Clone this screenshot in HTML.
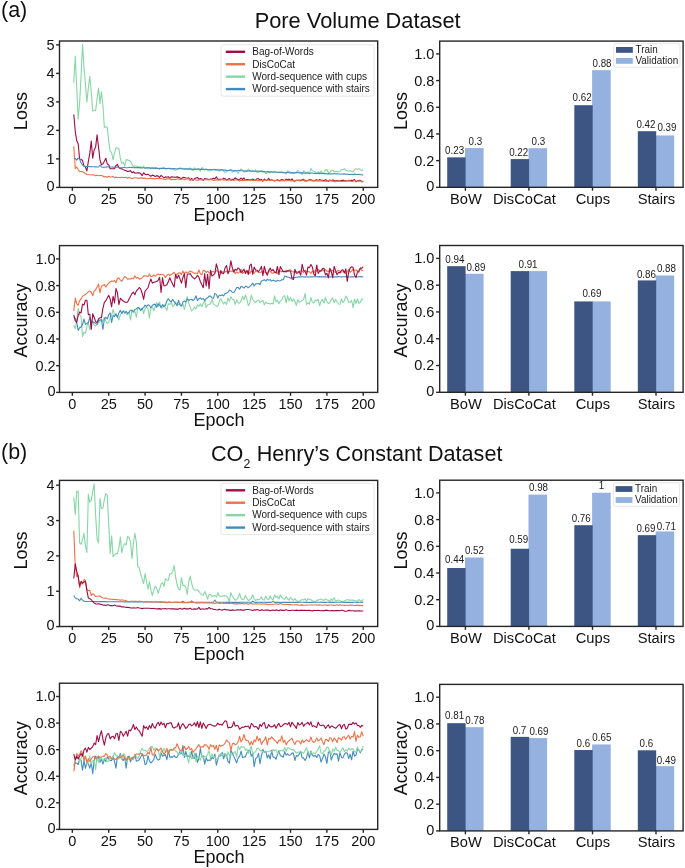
<!DOCTYPE html>
<html><head><meta charset="utf-8"><style>
html,body{margin:0;padding:0;background:#fff;}
body{width:685px;height:868px;overflow:hidden;}
svg{display:block;font-family:"Liberation Sans", sans-serif;fill:#111;will-change:transform;}
</style></head><body>
<svg width="685" height="868" viewBox="0 0 685 868">
<rect width="685" height="868" fill="#ffffff"/>
<polyline points="73.80,82.88 75.26,56.17 76.71,87.71 78.17,119.26 79.62,102.78 81.08,76.06 82.53,44.23 83.99,67.54 85.44,84.30 86.89,101.92 88.35,88.00 89.80,76.35 91.26,91.69 92.71,111.02 94.17,110.45 95.62,110.45 97.08,98.80 98.53,88.00 99.99,103.63 101.44,91.69 102.89,104.48 104.35,127.50 105.80,126.65 107.26,127.22 108.71,141.43 110.17,151.38 111.62,152.51 113.08,159.90 114.53,152.80 115.98,147.68 117.44,147.96 118.89,148.25 120.35,158.48 121.80,163.60 123.26,162.17 124.71,166.15 126.17,159.62 127.62,159.90 129.08,160.47 130.53,161.32 131.98,164.16 133.44,167.01 134.89,165.87 136.35,166.01 137.80,166.42 139.26,167.84 140.71,166.61 142.17,168.30 143.62,165.96 145.07,168.65 146.53,167.51 147.98,168.24 149.44,167.34 150.89,168.94 152.35,167.39 153.80,168.56 155.26,167.22 156.71,167.91 158.17,168.44 159.62,169.40 161.07,167.91 162.53,168.26 163.98,167.14 165.44,169.19 166.89,168.32 168.35,168.41 169.80,168.68 171.26,168.81 172.71,168.88 174.16,169.70 175.62,170.17 177.07,169.60 178.53,168.67 179.98,167.80 181.44,168.38 182.89,168.35 184.35,168.67 185.80,168.80 187.26,169.36 188.71,168.82 190.16,167.88 191.62,170.01 193.07,170.43 194.53,167.84 195.98,169.59 197.44,168.92 198.89,169.06 200.35,171.11 201.80,167.61 203.25,168.31 204.71,169.95 206.16,169.42 207.62,170.09 209.07,171.15 210.53,170.43 211.98,169.99 213.44,169.30 214.89,169.76 216.35,170.45 217.80,169.21 219.25,171.36 220.71,169.86 222.16,169.58 223.62,171.02 225.07,172.55 226.53,171.72 227.98,170.62 229.44,170.37 230.89,169.40 232.34,171.98 233.80,171.03 235.25,170.42 236.71,171.27 238.16,173.51 239.62,170.40 241.07,168.94 242.53,170.28 243.98,172.24 245.44,171.78 246.89,171.19 248.34,168.98 249.80,170.88 251.25,171.43 252.71,170.03 254.16,171.71 255.62,169.82 257.07,172.39 258.53,172.22 259.98,171.08 261.43,170.42 262.89,171.23 264.34,171.62 265.80,173.78 267.25,172.72 268.71,172.66 270.16,172.62 271.62,171.55 273.07,172.51 274.53,171.44 275.98,172.18 277.43,172.64 278.89,172.23 280.34,171.97 281.80,171.58 283.25,172.95 284.71,172.75 286.16,173.92 287.62,171.01 289.07,171.20 290.52,172.87 291.98,173.11 293.43,173.81 294.89,172.35 296.34,172.26 297.80,170.24 299.25,172.10 300.71,173.07 302.16,174.67 303.62,170.78 305.07,171.93 306.52,173.67 307.98,171.83 309.43,173.55 310.89,168.43 312.34,170.72 313.80,171.21 315.25,171.90 316.71,173.80 318.16,171.74 319.62,173.10 321.07,170.90 322.52,173.57 323.98,172.29 325.43,170.11 326.89,169.63 328.34,172.39 329.80,172.68 331.25,170.22 332.71,170.19 334.16,171.97 335.61,171.62 337.07,171.56 338.52,172.00 339.98,171.43 341.43,169.46 342.89,169.96 344.34,168.54 345.80,170.62 347.25,170.61 348.70,171.39 350.16,170.48 351.61,171.61 353.07,172.01 354.52,169.50 355.98,168.70 357.43,169.24 358.89,168.69 360.34,169.71 361.80,170.62 363.25,169.76" fill="none" stroke="#88d5a7" stroke-width="1.1" stroke-linejoin="round" opacity="1.0"/>
<polyline points="73.80,114.43 75.26,131.48 76.71,140.58 78.17,143.70 79.62,159.05 81.08,159.33 82.53,160.47 83.99,166.15 85.44,167.01 86.89,170.98 88.35,161.32 89.80,153.36 91.26,141.14 92.71,158.20 94.17,149.95 95.62,147.11 97.08,134.89 98.53,147.11 99.99,159.90 101.44,164.73 102.89,163.88 104.35,161.32 105.80,158.20 107.26,163.88 108.71,164.73 110.17,168.71 111.62,168.71 113.08,168.71 114.53,168.71 115.98,165.59 117.44,164.45 118.89,167.57 120.35,168.71 121.80,168.72 123.26,169.65 124.71,170.27 126.17,170.65 127.62,171.45 129.08,171.11 130.53,170.65 131.98,172.81 133.44,171.77 134.89,173.16 136.35,173.07 137.80,172.84 139.26,172.84 140.71,173.56 142.17,175.56 143.62,172.70 145.07,174.28 146.53,174.84 147.98,174.12 149.44,175.38 150.89,176.28 152.35,175.12 153.80,175.46 155.26,176.67 156.71,175.61 158.17,176.11 159.62,177.37 161.07,175.45 162.53,176.68 163.98,177.85 165.44,176.87 166.89,177.19 168.35,176.66 169.80,178.39 171.26,176.77 172.71,176.92 174.16,177.17 175.62,177.31 177.07,176.89 178.53,177.39 179.98,177.88 181.44,178.64 182.89,177.34 184.35,177.49 185.80,178.04 187.26,178.21 188.71,177.87 190.16,180.20 191.62,178.29 193.07,180.32 194.53,178.48 195.98,177.98 197.44,177.46 198.89,179.17 200.35,178.61 201.80,178.97 203.25,180.48 204.71,178.46 206.16,178.99 207.62,178.95 209.07,179.66 210.53,179.05 211.98,178.99 213.44,178.19 214.89,178.88 216.35,176.72 217.80,179.39 219.25,179.31 220.71,179.18 222.16,179.71 223.62,178.16 225.07,178.76 226.53,180.07 227.98,179.16 229.44,178.47 230.89,180.21 232.34,179.18 233.80,179.45 235.25,177.76 236.71,179.05 238.16,179.62 239.62,179.74 241.07,178.13 242.53,179.70 243.98,177.90 245.44,180.46 246.89,179.57 248.34,179.62 249.80,179.94 251.25,179.64 252.71,179.06 254.16,179.97 255.62,180.49 257.07,178.70 258.53,178.63 259.98,180.06 261.43,179.43 262.89,181.31 264.34,178.99 265.80,180.54 267.25,180.06 268.71,178.33 270.16,180.55 271.62,179.74 273.07,180.46 274.53,180.97 275.98,180.55 277.43,179.65 278.89,180.68 280.34,180.24 281.80,179.42 283.25,180.00 284.71,180.75 286.16,178.99 287.62,179.88 289.07,179.09 290.52,180.65 291.98,178.95 293.43,180.87 294.89,181.14 296.34,180.33 297.80,180.31 299.25,179.94 300.71,180.47 302.16,179.75 303.62,179.33 305.07,180.58 306.52,181.04 307.98,180.46 309.43,179.73 310.89,179.75 312.34,180.48 313.80,180.89 315.25,180.31 316.71,179.73 318.16,180.77 319.62,179.57 321.07,180.24 322.52,180.22 323.98,180.79 325.43,179.61 326.89,180.42 328.34,181.36 329.80,180.00 331.25,180.76 332.71,179.88 334.16,180.44 335.61,180.93 337.07,180.48 338.52,180.89 339.98,181.10 341.43,180.62 342.89,180.16 344.34,180.63 345.80,180.74 347.25,181.03 348.70,180.39 350.16,180.58 351.61,180.20 353.07,180.57 354.52,179.56 355.98,181.73 357.43,180.86 358.89,180.54 360.34,180.35 361.80,181.77 363.25,181.61" fill="none" stroke="#9c0e44" stroke-width="1.1" stroke-linejoin="round" opacity="1.0"/>
<polyline points="73.80,146.26 75.26,168.71 76.71,167.01 78.17,169.56 79.62,171.46 81.08,171.47 82.53,171.69 83.99,172.50 85.44,173.56 86.89,174.57 88.35,174.79 89.80,174.77 91.26,174.98 92.71,174.70 94.17,174.96 95.62,175.76 97.08,175.26 98.53,175.70 99.99,175.50 101.44,175.56 102.89,176.07 104.35,177.05 105.80,176.41 107.26,177.23 108.71,176.25 110.17,177.07 111.62,176.98 113.08,176.37 114.53,177.65 115.98,177.12 117.44,177.56 118.89,177.45 120.35,177.61 121.80,177.18 123.26,177.59 124.71,177.44 126.17,177.41 127.62,178.27 129.08,177.30 130.53,177.90 131.98,178.43 133.44,178.15 134.89,177.69 136.35,177.70 137.80,178.32 139.26,178.11 140.71,178.11 142.17,177.90 143.62,178.35 145.07,178.03 146.53,178.70 147.98,178.70 149.44,178.29 150.89,178.33 152.35,178.64 153.80,178.46 155.26,178.62 156.71,178.47 158.17,178.38 159.62,178.63 161.07,178.56 162.53,179.00 163.98,179.09 165.44,179.72 166.89,178.84 168.35,179.00 169.80,178.87 171.26,179.70 172.71,179.28 174.16,179.34 175.62,179.78 177.07,178.93 178.53,178.86 179.98,179.71 181.44,179.19 182.89,178.80 184.35,179.80 185.80,179.12 187.26,178.96 188.71,178.90 190.16,179.99 191.62,179.93 193.07,179.55 194.53,179.26 195.98,180.10 197.44,179.97 198.89,180.12 200.35,179.42 201.80,179.98 203.25,179.64 204.71,179.64 206.16,179.49 207.62,179.75 209.07,179.80 210.53,179.56 211.98,179.80 213.44,180.38 214.89,180.17 216.35,179.73 217.80,180.00 219.25,180.17 220.71,179.99 222.16,179.02 223.62,180.10 225.07,179.95 226.53,179.96 227.98,180.21 229.44,179.75 230.89,179.87 232.34,180.03 233.80,180.60 235.25,179.78 236.71,179.95 238.16,180.23 239.62,181.07 241.07,180.24 242.53,180.62 243.98,180.32 245.44,180.42 246.89,180.53 248.34,179.96 249.80,180.26 251.25,179.92 252.71,180.62 254.16,180.39 255.62,179.91 257.07,180.25 258.53,180.59 259.98,180.65 261.43,180.57 262.89,180.42 264.34,180.19 265.80,180.37 267.25,180.20 268.71,180.18 270.16,180.42 271.62,180.06 273.07,180.25 274.53,180.54 275.98,180.55 277.43,180.52 278.89,180.75 280.34,180.95 281.80,180.53 283.25,180.71 284.71,180.39 286.16,180.76 287.62,180.56 289.07,180.54 290.52,180.76 291.98,180.57 293.43,180.86 294.89,180.78 296.34,180.41 297.80,180.55 299.25,180.68 300.71,180.93 302.16,180.49 303.62,180.11 305.07,181.39 306.52,180.42 307.98,180.69 309.43,180.43 310.89,180.42 312.34,181.09 313.80,180.27 315.25,180.99 316.71,180.90 318.16,180.64 319.62,180.87 321.07,180.77 322.52,181.02 323.98,181.19 325.43,180.88 326.89,181.23 328.34,180.51 329.80,180.85 331.25,180.52 332.71,181.32 334.16,181.58 335.61,181.65 337.07,181.09 338.52,181.37 339.98,180.90 341.43,181.45 342.89,181.44 344.34,180.95 345.80,181.17 347.25,180.86 348.70,180.83 350.16,180.98 351.61,181.45 353.07,181.36 354.52,180.45 355.98,181.20 357.43,181.05 358.89,181.11 360.34,181.17 361.80,181.22 363.25,181.35" fill="none" stroke="#ec7248" stroke-width="1.1" stroke-linejoin="round" opacity="1.0"/>
<polyline points="73.80,158.20 75.26,158.48 76.71,160.19 78.17,158.20 79.62,159.05 81.08,163.03 82.53,165.02 83.99,166.15 85.44,166.44 86.89,166.50 88.35,166.56 89.80,166.63 91.26,166.69 92.71,166.75 94.17,166.82 95.62,166.88 97.08,166.94 98.53,167.01 99.99,165.02 101.44,167.01 102.89,167.19 104.35,167.17 105.80,166.92 107.26,166.84 108.71,167.00 110.17,167.03 111.62,167.07 113.08,167.16 114.53,167.04 115.98,167.32 117.44,167.08 118.89,167.36 120.35,167.73 121.80,167.69 123.26,167.47 124.71,167.56 126.17,167.76 127.62,167.68 129.08,167.50 130.53,167.48 131.98,167.42 133.44,167.82 134.89,167.58 136.35,167.46 137.80,167.64 139.26,167.36 140.71,167.88 142.17,167.80 143.62,167.79 145.07,167.94 146.53,167.91 147.98,167.89 149.44,167.98 150.89,168.12 152.35,168.15 153.80,168.11 155.26,168.46 156.71,168.14 158.17,168.45 159.62,168.31 161.07,168.53 162.53,168.31 163.98,168.45 165.44,168.47 166.89,168.61 168.35,168.47 169.80,168.20 171.26,168.95 172.71,168.51 174.16,168.61 175.62,168.77 177.07,169.00 178.53,168.45 179.98,168.77 181.44,168.65 182.89,168.97 184.35,169.09 185.80,168.75 187.26,168.86 188.71,169.11 190.16,169.14 191.62,169.00 193.07,169.33 194.53,169.38 195.98,169.26 197.44,169.09 198.89,169.16 200.35,169.33 201.80,169.14 203.25,169.48 204.71,169.59 206.16,169.06 207.62,169.67 209.07,169.49 210.53,169.54 211.98,169.66 213.44,169.68 214.89,169.63 216.35,169.70 217.80,169.96 219.25,169.90 220.71,169.69 222.16,169.87 223.62,170.16 225.07,170.12 226.53,170.38 227.98,170.50 229.44,170.40 230.89,170.05 232.34,170.54 233.80,170.85 235.25,170.55 236.71,170.72 238.16,170.50 239.62,170.46 241.07,170.82 242.53,170.79 243.98,171.04 245.44,170.69 246.89,171.12 248.34,171.03 249.80,170.64 251.25,171.33 252.71,171.18 254.16,171.28 255.62,171.24 257.07,171.29 258.53,171.16 259.98,171.40 261.43,171.44 262.89,171.84 264.34,171.59 265.80,171.97 267.25,171.55 268.71,171.85 270.16,171.71 271.62,172.04 273.07,171.96 274.53,172.05 275.98,172.02 277.43,172.19 278.89,172.34 280.34,172.36 281.80,172.47 283.25,172.57 284.71,172.68 286.16,172.78 287.62,172.23 289.07,172.76 290.52,172.89 291.98,172.55 293.43,172.72 294.89,172.83 296.34,172.64 297.80,172.55 299.25,173.08 300.71,172.71 302.16,172.90 303.62,172.84 305.07,173.18 306.52,172.83 307.98,172.96 309.43,173.67 310.89,173.02 312.34,173.05 313.80,173.57 315.25,173.30 316.71,173.43 318.16,173.40 319.62,173.63 321.07,173.41 322.52,173.43 323.98,173.62 325.43,173.65 326.89,173.98 328.34,173.63 329.80,173.98 331.25,173.80 332.71,173.98 334.16,173.43 335.61,173.92 337.07,173.70 338.52,174.01 339.98,174.05 341.43,173.95 342.89,174.13 344.34,173.76 345.80,174.23 347.25,173.96 348.70,174.48 350.16,174.47 351.61,174.25 353.07,174.63 354.52,174.11 355.98,174.39 357.43,174.50 358.89,174.26 360.34,174.68 361.80,174.76 363.25,175.11" fill="none" stroke="#438cbd" stroke-width="1.1" stroke-linejoin="round" opacity="1.0"/>
<rect x="59.50" y="41.00" width="318.20" height="146.40" fill="none" stroke="#262626" stroke-width="1.4"/>
<line x1="56.10" y1="187.40" x2="59.50" y2="187.40" stroke="#262626" stroke-width="1.4"/>
<text x="54.50" y="191.05" font-size="14.5" text-anchor="end" >0</text>
<line x1="56.10" y1="158.90" x2="59.50" y2="158.90" stroke="#262626" stroke-width="1.4"/>
<text x="54.50" y="163.85" font-size="14.5" text-anchor="end" >1</text>
<line x1="56.10" y1="130.40" x2="59.50" y2="130.40" stroke="#262626" stroke-width="1.4"/>
<text x="54.50" y="135.35" font-size="14.5" text-anchor="end" >2</text>
<line x1="56.10" y1="101.90" x2="59.50" y2="101.90" stroke="#262626" stroke-width="1.4"/>
<text x="54.50" y="106.85" font-size="14.5" text-anchor="end" >3</text>
<line x1="56.10" y1="73.40" x2="59.50" y2="73.40" stroke="#262626" stroke-width="1.4"/>
<text x="54.50" y="78.35" font-size="14.5" text-anchor="end" >4</text>
<line x1="56.10" y1="44.90" x2="59.50" y2="44.90" stroke="#262626" stroke-width="1.4"/>
<text x="54.50" y="49.85" font-size="14.5" text-anchor="end" >5</text>
<line x1="72.35" y1="187.40" x2="72.35" y2="190.80" stroke="#262626" stroke-width="1.4"/>
<text x="72.35" y="203.80" font-size="14.5" text-anchor="middle" >0</text>
<line x1="108.71" y1="187.40" x2="108.71" y2="190.80" stroke="#262626" stroke-width="1.4"/>
<text x="108.71" y="203.80" font-size="14.5" text-anchor="middle" >25</text>
<line x1="145.07" y1="187.40" x2="145.07" y2="190.80" stroke="#262626" stroke-width="1.4"/>
<text x="145.07" y="203.80" font-size="14.5" text-anchor="middle" >50</text>
<line x1="181.44" y1="187.40" x2="181.44" y2="190.80" stroke="#262626" stroke-width="1.4"/>
<text x="181.44" y="203.80" font-size="14.5" text-anchor="middle" >75</text>
<line x1="217.80" y1="187.40" x2="217.80" y2="190.80" stroke="#262626" stroke-width="1.4"/>
<text x="217.80" y="203.80" font-size="14.5" text-anchor="middle" >100</text>
<line x1="254.16" y1="187.40" x2="254.16" y2="190.80" stroke="#262626" stroke-width="1.4"/>
<text x="254.16" y="203.80" font-size="14.5" text-anchor="middle" >125</text>
<line x1="290.52" y1="187.40" x2="290.52" y2="190.80" stroke="#262626" stroke-width="1.4"/>
<text x="290.52" y="203.80" font-size="14.5" text-anchor="middle" >150</text>
<line x1="326.89" y1="187.40" x2="326.89" y2="190.80" stroke="#262626" stroke-width="1.4"/>
<text x="326.89" y="203.80" font-size="14.5" text-anchor="middle" >175</text>
<line x1="363.25" y1="187.40" x2="363.25" y2="190.80" stroke="#262626" stroke-width="1.4"/>
<text x="363.25" y="203.80" font-size="14.5" text-anchor="middle" >200</text>
<text x="218.90" y="220.90" font-size="18.0" text-anchor="middle" >Epoch</text>
<text x="27.20" y="111.10" font-size="18.0" text-anchor="middle" transform="rotate(-90 27.20 111.10)" >Loss</text>
<rect x="221.00" y="44.80" width="153" height="51.3" rx="2" fill="#ffffff" fill-opacity="0.8" stroke="#e0e0e0" stroke-width="0.8"/>
<line x1="225.80" y1="51.80" x2="245.10" y2="51.80" stroke="#9c0e44" stroke-width="2.4"/>
<text x="0" y="0" font-size="10.0" text-anchor="start" transform="translate(252.30 55.10) scale(1 1.1)" fill="#1a1a1a">Bag-of-Words</text>
<line x1="225.80" y1="64.23" x2="245.10" y2="64.23" stroke="#ec7248" stroke-width="2.4"/>
<text x="0" y="0" font-size="10.0" text-anchor="start" transform="translate(252.30 67.53) scale(1 1.1)" fill="#1a1a1a">DisCoCat</text>
<line x1="225.80" y1="76.66" x2="245.10" y2="76.66" stroke="#88d5a7" stroke-width="2.4"/>
<text x="0" y="0" font-size="10.0" text-anchor="start" transform="translate(252.30 79.96) scale(1 1.1)" fill="#1a1a1a">Word-sequence with cups</text>
<line x1="225.80" y1="89.09" x2="245.10" y2="89.09" stroke="#438cbd" stroke-width="2.4"/>
<text x="0" y="0" font-size="10.0" text-anchor="start" transform="translate(252.30 92.39) scale(1 1.1)" fill="#1a1a1a">Word-sequence with stairs</text>
<polyline points="73.80,325.13 75.26,328.72 76.71,320.75 78.17,308.51 79.62,314.76 81.08,316.49 82.53,336.57 83.99,332.18 85.44,333.11 86.89,326.06 88.35,322.47 89.80,329.52 91.26,319.95 92.71,321.68 94.17,325.13 95.62,326.06 97.08,324.34 98.53,322.47 99.99,321.68 101.44,319.02 102.89,321.68 104.35,317.29 105.80,320.75 107.26,323.40 108.71,322.47 110.17,317.29 111.62,315.56 113.08,309.44 114.53,314.76 115.98,315.56 117.44,316.49 118.89,319.95 120.35,314.76 121.80,312.90 123.26,311.17 124.71,312.10 126.17,313.83 127.62,314.76 129.08,312.10 130.53,320.05 131.98,310.05 133.44,313.00 134.89,311.24 136.35,317.29 137.80,307.51 139.26,308.17 140.71,308.85 142.17,308.14 143.62,313.51 145.07,308.34 146.53,307.08 147.98,308.57 149.44,318.11 150.89,308.08 152.35,307.11 153.80,310.79 155.26,306.75 156.71,302.57 158.17,306.74 159.62,302.00 161.07,307.68 162.53,308.04 163.98,304.62 165.44,308.06 166.89,310.37 168.35,303.63 169.80,304.46 171.26,302.33 172.71,306.74 174.16,305.11 175.62,301.90 177.07,305.24 178.53,304.57 179.98,303.35 181.44,306.70 182.89,303.72 184.35,309.42 185.80,303.34 187.26,296.55 188.71,303.27 190.16,306.82 191.62,310.93 193.07,309.67 194.53,307.08 195.98,308.84 197.44,304.99 198.89,306.33 200.35,303.93 201.80,306.68 203.25,303.00 204.71,300.77 206.16,307.62 207.62,304.67 209.07,304.34 210.53,303.79 211.98,299.45 213.44,303.77 214.89,305.13 216.35,306.14 217.80,306.16 219.25,301.78 220.71,298.61 222.16,301.30 223.62,304.02 225.07,301.99 226.53,304.36 227.98,298.22 229.44,301.06 230.89,296.79 232.34,299.33 233.80,299.44 235.25,304.43 236.71,299.83 238.16,302.66 239.62,303.17 241.07,300.85 242.53,296.25 243.98,299.82 245.44,294.99 246.89,299.26 248.34,305.72 249.80,303.05 251.25,295.39 252.71,299.50 254.16,301.09 255.62,302.78 257.07,300.80 258.53,299.99 259.98,302.64 261.43,301.49 262.89,300.43 264.34,304.73 265.80,302.10 267.25,303.61 268.71,303.28 270.16,304.11 271.62,303.25 273.07,303.88 274.53,295.81 275.98,301.82 277.43,300.13 278.89,303.78 280.34,300.85 281.80,299.89 283.25,296.28 284.71,295.83 286.16,302.65 287.62,295.66 289.07,301.01 290.52,297.42 291.98,301.45 293.43,298.95 294.89,301.52 296.34,305.47 297.80,299.43 299.25,302.18 300.71,301.60 302.16,300.41 303.62,299.62 305.07,293.45 306.52,304.52 307.98,302.76 309.43,304.13 310.89,297.30 312.34,302.09 313.80,303.04 315.25,299.73 316.71,300.94 318.16,299.51 319.62,305.80 321.07,301.14 322.52,299.35 323.98,303.01 325.43,297.33 326.89,301.48 328.34,303.62 329.80,302.49 331.25,299.57 332.71,297.97 334.16,302.70 335.61,299.44 337.07,302.27 338.52,304.01 339.98,304.27 341.43,298.92 342.89,302.61 344.34,300.73 345.80,296.11 347.25,298.12 348.70,302.48 350.16,302.07 351.61,300.39 353.07,307.72 354.52,299.17 355.98,303.45 357.43,298.97 358.89,303.44 360.34,302.31 361.80,298.71 363.25,299.23" fill="none" stroke="#88d5a7" stroke-width="1.1" stroke-linejoin="round" opacity="1.0"/>
<polyline points="73.80,317.29 75.26,318.22 76.71,322.47 78.17,330.45 79.62,327.79 81.08,327.00 82.53,324.34 83.99,319.02 85.44,324.34 86.89,323.40 88.35,322.47 89.80,317.29 91.26,322.47 92.71,321.68 94.17,322.47 95.62,323.40 97.08,324.34 98.53,320.75 99.99,319.95 101.44,319.55 102.89,329.52 104.35,319.02 105.80,317.29 107.26,319.02 108.71,314.76 110.17,312.90 111.62,322.47 113.08,315.56 114.53,316.49 115.98,313.83 117.44,317.42 118.89,312.90 120.35,310.24 121.80,313.43 123.26,310.77 124.71,312.90 126.17,311.43 127.62,313.43 129.08,312.10 130.53,310.19 131.98,310.58 133.44,311.54 134.89,309.38 136.35,308.93 137.80,307.58 139.26,308.04 140.71,310.68 142.17,308.70 143.62,307.57 145.07,305.14 146.53,306.68 147.98,304.72 149.44,305.53 150.89,307.75 152.35,305.49 153.80,304.39 155.26,304.37 156.71,307.20 158.17,303.81 159.62,305.19 161.07,307.40 162.53,304.63 163.98,306.63 165.44,305.23 166.89,300.59 168.35,298.80 169.80,300.91 171.26,301.77 172.71,299.28 174.16,301.62 175.62,303.57 177.07,305.76 178.53,300.28 179.98,305.13 181.44,305.87 182.89,302.19 184.35,300.86 185.80,302.10 187.26,298.92 188.71,300.48 190.16,299.81 191.62,299.24 193.07,300.63 194.53,299.19 195.98,295.72 197.44,300.55 198.89,298.65 200.35,297.93 201.80,299.39 203.25,298.47 204.71,300.84 206.16,298.73 207.62,297.83 209.07,296.04 210.53,296.13 211.98,297.96 213.44,298.29 214.89,293.40 216.35,294.35 217.80,298.06 219.25,295.24 220.71,295.61 222.16,294.70 223.62,295.86 225.07,293.48 226.53,293.14 227.98,292.26 229.44,289.92 230.89,290.64 232.34,292.28 233.80,292.56 235.25,290.33 236.71,287.52 238.16,287.44 239.62,289.27 241.07,286.37 242.53,287.04 243.98,288.14 245.44,286.28 246.89,286.62 248.34,287.71 249.80,286.36 251.25,285.14 252.71,283.13 254.16,286.06 255.62,283.89 257.07,283.81 258.53,283.53 259.98,284.78 261.43,280.95 262.89,280.52 264.34,279.73 265.80,280.91 267.25,279.30 268.71,280.37 270.16,279.53 271.62,281.12 273.07,280.14 274.53,280.66 275.98,281.42 277.43,280.36 278.89,281.06 280.34,280.83 281.80,279.63 283.25,279.69 284.71,276.15 286.16,276.50 287.62,277.16 289.07,277.31 290.52,278.39 291.98,277.37 293.43,278.13 294.89,277.54 296.34,277.32 297.80,277.13 299.25,276.85 300.71,276.96 302.16,276.54 303.62,276.93 305.07,276.74 306.52,277.07 307.98,276.74 309.43,277.02 310.89,276.83 312.34,276.86 313.80,276.75 315.25,276.78 316.71,276.81 318.16,276.88 319.62,276.60 321.07,276.92 322.52,276.86 323.98,276.92 325.43,276.84 326.89,276.99 328.34,276.91 329.80,276.79 331.25,276.94 332.71,276.80 334.16,276.94 335.61,276.67 337.07,276.88 338.52,276.62 339.98,276.79 341.43,276.88 342.89,276.73 344.34,276.70 345.80,276.65 347.25,276.67 348.70,276.74 350.16,277.01 351.61,276.73 353.07,276.87 354.52,276.80 355.98,276.69 357.43,276.95 358.89,276.68 360.34,276.54 361.80,276.78 363.25,276.90" fill="none" stroke="#438cbd" stroke-width="1.1" stroke-linejoin="round" opacity="1.0"/>
<polyline points="73.80,311.17 75.26,298.00 76.71,303.72 78.17,305.45 79.62,300.66 81.08,298.93 82.53,296.27 83.99,295.34 85.44,294.54 86.89,293.21 88.35,291.88 89.80,290.95 91.26,292.28 92.71,295.87 94.17,290.95 95.62,289.76 97.08,287.10 98.53,284.04 99.99,292.81 101.44,286.16 102.89,285.37 104.35,284.44 105.80,287.10 107.26,284.83 108.71,283.11 110.17,281.78 111.62,280.98 113.08,281.38 114.53,280.45 115.98,282.71 117.44,278.32 118.89,277.92 120.35,280.05 121.80,281.38 123.26,278.72 124.71,276.59 126.17,277.39 127.62,279.25 129.08,278.72 130.53,279.10 131.98,278.18 133.44,278.83 134.89,275.71 136.35,278.16 137.80,277.47 139.26,279.12 140.71,278.63 142.17,277.76 143.62,275.85 145.07,275.68 146.53,275.99 147.98,276.75 149.44,273.95 150.89,276.76 152.35,276.38 153.80,274.85 155.26,276.28 156.71,274.83 158.17,273.97 159.62,274.94 161.07,274.31 162.53,274.57 163.98,275.19 165.44,277.68 166.89,275.52 168.35,274.12 169.80,275.71 171.26,274.45 172.71,273.52 174.16,272.22 175.62,274.92 177.07,273.96 178.53,273.09 179.98,272.69 181.44,274.61 182.89,271.13 184.35,273.85 185.80,271.77 187.26,273.04 188.71,272.32 190.16,270.91 191.62,271.83 193.07,272.36 194.53,273.47 195.98,273.02 197.44,273.74 198.89,270.04 200.35,273.78 201.80,274.84 203.25,270.40 204.71,270.77 206.16,272.48 207.62,271.21 209.07,272.95 210.53,272.67 211.98,271.53 213.44,271.63 214.89,272.52 216.35,270.31 217.80,271.23 219.25,271.85 220.71,273.23 222.16,271.83 223.62,272.30 225.07,272.03 226.53,271.10 227.98,272.53 229.44,271.64 230.89,271.07 232.34,271.52 233.80,269.46 235.25,273.71 236.71,271.93 238.16,273.10 239.62,271.91 241.07,269.17 242.53,273.54 243.98,272.11 245.44,271.10 246.89,271.68 248.34,270.80 249.80,273.40 251.25,270.72 252.71,272.74 254.16,273.01 255.62,271.11 257.07,271.20 258.53,272.46 259.98,272.54 261.43,271.88 262.89,271.66 264.34,271.82 265.80,272.70 267.25,274.07 268.71,270.22 270.16,271.41 271.62,272.90 273.07,273.23 274.53,272.30 275.98,271.99 277.43,273.79 278.89,270.05 280.34,271.07 281.80,271.85 283.25,271.13 284.71,271.24 286.16,270.35 287.62,271.30 289.07,270.12 290.52,269.80 291.98,271.76 293.43,271.89 294.89,272.34 296.34,271.64 297.80,272.15 299.25,271.36 300.71,271.03 302.16,270.78 303.62,272.56 305.07,270.18 306.52,271.64 307.98,271.42 309.43,271.83 310.89,273.39 312.34,271.00 313.80,273.13 315.25,270.07 316.71,271.19 318.16,269.57 319.62,270.52 321.07,270.45 322.52,269.70 323.98,271.22 325.43,269.53 326.89,271.29 328.34,270.87 329.80,271.84 331.25,270.54 332.71,270.39 334.16,271.62 335.61,272.44 337.07,271.11 338.52,270.61 339.98,271.21 341.43,272.07 342.89,271.79 344.34,271.29 345.80,273.78 347.25,271.61 348.70,269.45 350.16,272.32 351.61,271.18 353.07,269.15 354.52,270.18 355.98,269.94 357.43,271.06 358.89,272.30 360.34,267.83 361.80,270.55 363.25,270.61" fill="none" stroke="#ec7248" stroke-width="1.1" stroke-linejoin="round" opacity="1.0"/>
<polyline points="73.80,314.76 75.26,320.75 76.71,322.47 78.17,315.56 79.62,312.10 81.08,312.90 82.53,304.12 83.99,305.05 85.44,300.26 86.89,300.26 88.35,314.76 89.80,314.23 91.26,329.52 92.71,313.83 94.17,317.29 95.62,321.68 97.08,322.47 98.53,319.02 99.99,317.69 101.44,317.69 102.89,308.51 104.35,302.39 105.80,300.66 107.26,298.00 108.71,295.34 110.17,298.93 111.62,306.78 113.08,296.27 114.53,302.92 115.98,288.43 117.44,292.81 118.89,304.65 120.35,298.40 121.80,299.73 123.26,301.06 124.71,301.99 126.17,302.39 127.62,301.99 129.08,298.93 130.53,296.14 131.98,293.48 133.44,292.15 134.89,294.81 136.35,290.82 137.80,289.49 139.26,287.50 140.71,288.82 142.17,293.48 143.62,299.33 145.07,291.22 146.53,289.49 147.98,287.76 149.44,282.84 150.89,278.98 152.35,283.11 153.80,282.17 155.26,281.91 156.71,281.51 158.17,280.18 159.62,277.25 161.07,292.42 162.53,277.79 163.98,285.90 165.44,285.50 166.89,284.83 168.35,281.51 169.80,277.79 171.26,281.24 172.71,284.17 174.16,287.10 175.62,274.33 177.07,278.45 178.53,274.99 179.98,278.85 181.44,283.11 182.89,277.52 184.35,273.66 185.80,287.76 187.26,274.33 188.71,274.06 190.16,273.66 191.62,276.06 193.07,277.52 194.53,278.98 195.98,277.52 197.44,275.39 198.89,277.25 200.35,281.51 201.80,284.83 203.25,287.76 204.71,273.66 206.16,285.90 207.62,274.33 209.07,288.82 210.53,270.20 211.98,276.06 213.44,274.86 214.89,273.66 216.35,263.82 217.80,269.01 219.25,278.45 220.71,270.60 222.16,273.29 223.62,273.59 225.07,267.97 226.53,265.48 227.98,273.76 229.44,269.60 230.89,260.80 232.34,268.16 233.80,272.07 235.25,269.27 236.71,270.23 238.16,267.88 239.62,269.19 241.07,272.75 242.53,271.17 243.98,269.09 245.44,273.54 246.89,270.36 248.34,274.50 249.80,265.47 251.25,264.13 252.71,274.30 254.16,267.10 255.62,269.94 257.07,270.27 258.53,271.71 259.98,269.53 261.43,266.44 262.89,275.78 264.34,266.39 265.80,271.76 267.25,275.24 268.71,270.85 270.16,267.98 271.62,271.02 273.07,269.41 274.53,272.05 275.98,272.89 277.43,266.45 278.89,274.55 280.34,266.48 281.80,269.23 283.25,271.80 284.71,271.58 286.16,271.85 287.62,270.79 289.07,270.83 290.52,271.23 291.98,278.71 293.43,279.44 294.89,269.21 296.34,273.26 297.80,273.01 299.25,271.34 300.71,275.24 302.16,264.20 303.62,270.65 305.07,271.36 306.52,275.03 307.98,266.96 309.43,267.63 310.89,264.46 312.34,266.92 313.80,274.01 315.25,275.89 316.71,264.96 318.16,273.44 319.62,271.08 321.07,271.28 322.52,268.56 323.98,268.35 325.43,274.91 326.89,273.29 328.34,277.82 329.80,268.31 331.25,271.30 332.71,277.61 334.16,266.33 335.61,270.58 337.07,274.81 338.52,272.34 339.98,273.05 341.43,270.19 342.89,269.78 344.34,273.00 345.80,268.86 347.25,281.35 348.70,272.04 350.16,267.95 351.61,266.69 353.07,267.31 354.52,274.92 355.98,277.59 357.43,272.03 358.89,270.87 360.34,268.21 361.80,268.21 363.25,266.88" fill="none" stroke="#9c0e44" stroke-width="1.1" stroke-linejoin="round" opacity="1.0"/>
<rect x="59.50" y="245.60" width="318.20" height="146.80" fill="none" stroke="#262626" stroke-width="1.4"/>
<line x1="56.10" y1="392.40" x2="59.50" y2="392.40" stroke="#262626" stroke-width="1.4"/>
<text x="55.60" y="396.05" font-size="14.5" text-anchor="end" >0</text>
<line x1="56.10" y1="365.70" x2="59.50" y2="365.70" stroke="#262626" stroke-width="1.4"/>
<text x="55.60" y="370.65" font-size="14.5" text-anchor="end" >0.2</text>
<line x1="56.10" y1="339.00" x2="59.50" y2="339.00" stroke="#262626" stroke-width="1.4"/>
<text x="55.60" y="343.95" font-size="14.5" text-anchor="end" >0.4</text>
<line x1="56.10" y1="312.30" x2="59.50" y2="312.30" stroke="#262626" stroke-width="1.4"/>
<text x="55.60" y="317.25" font-size="14.5" text-anchor="end" >0.6</text>
<line x1="56.10" y1="285.60" x2="59.50" y2="285.60" stroke="#262626" stroke-width="1.4"/>
<text x="55.60" y="290.55" font-size="14.5" text-anchor="end" >0.8</text>
<line x1="56.10" y1="258.90" x2="59.50" y2="258.90" stroke="#262626" stroke-width="1.4"/>
<text x="55.60" y="263.85" font-size="14.5" text-anchor="end" >1.0</text>
<line x1="72.35" y1="392.40" x2="72.35" y2="395.80" stroke="#262626" stroke-width="1.4"/>
<text x="72.35" y="408.80" font-size="14.5" text-anchor="middle" >0</text>
<line x1="108.71" y1="392.40" x2="108.71" y2="395.80" stroke="#262626" stroke-width="1.4"/>
<text x="108.71" y="408.80" font-size="14.5" text-anchor="middle" >25</text>
<line x1="145.07" y1="392.40" x2="145.07" y2="395.80" stroke="#262626" stroke-width="1.4"/>
<text x="145.07" y="408.80" font-size="14.5" text-anchor="middle" >50</text>
<line x1="181.44" y1="392.40" x2="181.44" y2="395.80" stroke="#262626" stroke-width="1.4"/>
<text x="181.44" y="408.80" font-size="14.5" text-anchor="middle" >75</text>
<line x1="217.80" y1="392.40" x2="217.80" y2="395.80" stroke="#262626" stroke-width="1.4"/>
<text x="217.80" y="408.80" font-size="14.5" text-anchor="middle" >100</text>
<line x1="254.16" y1="392.40" x2="254.16" y2="395.80" stroke="#262626" stroke-width="1.4"/>
<text x="254.16" y="408.80" font-size="14.5" text-anchor="middle" >125</text>
<line x1="290.52" y1="392.40" x2="290.52" y2="395.80" stroke="#262626" stroke-width="1.4"/>
<text x="290.52" y="408.80" font-size="14.5" text-anchor="middle" >150</text>
<line x1="326.89" y1="392.40" x2="326.89" y2="395.80" stroke="#262626" stroke-width="1.4"/>
<text x="326.89" y="408.80" font-size="14.5" text-anchor="middle" >175</text>
<line x1="363.25" y1="392.40" x2="363.25" y2="395.80" stroke="#262626" stroke-width="1.4"/>
<text x="363.25" y="408.80" font-size="14.5" text-anchor="middle" >200</text>
<text x="218.90" y="425.90" font-size="18.0" text-anchor="middle" >Epoch</text>
<text x="27.20" y="320.40" font-size="18.0" text-anchor="middle" transform="rotate(-90 27.20 320.40)" >Accuracy</text>
<polyline points="73.80,497.57 75.26,514.54 76.71,491.21 78.17,491.21 79.62,542.82 81.08,544.23 82.53,539.64 83.99,533.28 85.44,546.36 86.89,552.37 88.35,494.39 89.80,502.17 91.26,500.40 92.71,491.92 94.17,483.79 95.62,514.89 97.08,538.93 98.53,542.82 99.99,498.63 101.44,508.53 102.89,508.18 104.35,499.69 105.80,493.68 107.26,495.10 108.71,524.09 110.17,553.78 111.62,535.75 113.08,556.61 114.53,554.84 115.98,553.43 117.44,553.78 118.89,548.12 120.35,537.16 121.80,552.72 123.26,546.36 124.71,543.53 126.17,544.94 127.62,536.46 129.08,537.87 130.53,542.11 131.98,558.73 133.44,543.17 134.89,533.28 136.35,542.11 137.80,566.86 139.26,567.57 140.71,574.28 142.17,578.88 143.62,583.47 145.07,573.58 146.53,581.71 147.98,589.13 149.44,581.71 150.89,590.19 152.35,595.49 153.80,590.19 155.26,586.30 156.71,588.07 158.17,593.37 159.62,589.13 161.07,584.18 162.53,582.77 163.98,586.30 165.44,578.52 166.89,580.29 168.35,580.29 169.80,573.58 171.26,573.93 172.71,571.45 174.16,565.44 175.62,577.11 177.07,584.53 178.53,589.13 179.98,590.01 181.44,577.46 182.89,585.59 184.35,585.24 185.80,587.36 187.26,594.43 188.71,582.06 190.16,576.05 191.62,583.12 193.07,588.42 194.53,590.01 195.98,590.01 197.44,589.84 198.89,591.25 200.35,593.55 201.80,594.78 203.25,595.14 204.71,591.60 206.16,594.78 207.62,599.13 209.07,594.43 210.53,594.43 211.98,596.55 213.44,595.85 214.89,595.49 216.35,597.05 217.80,592.66 219.25,595.85 220.71,596.20 222.16,596.20 223.62,595.85 225.07,595.49 226.53,596.20 227.98,597.97 229.44,601.50 230.89,592.66 232.34,596.20 233.80,598.32 235.25,600.09 236.71,599.73 238.16,597.26 239.62,593.37 241.07,598.32 242.53,599.73 243.98,599.03 245.44,595.49 246.89,598.32 248.34,600.44 249.80,599.73 251.25,598.32 252.71,594.78 254.16,599.03 255.62,600.44 257.07,599.38 258.53,599.73 259.98,599.03 261.43,596.91 262.89,599.73 264.34,600.09 265.80,596.20 267.25,599.03 268.71,599.73 270.16,595.85 271.62,598.67 273.07,600.09 274.53,594.78 275.98,597.61 277.43,596.20 278.89,599.03 280.34,594.78 281.80,597.61 283.25,598.32 284.71,599.38 286.16,596.55 287.62,599.03 289.07,600.09 290.52,597.26 291.98,599.03 293.43,600.44 294.89,598.67 296.34,600.79 297.80,601.15 299.25,601.50 300.71,600.44 302.16,599.38 303.62,600.09 305.07,598.73 306.52,601.32 307.98,598.75 309.43,599.35 310.89,599.76 312.34,600.94 313.80,600.94 315.25,602.57 316.71,600.09 318.16,600.20 319.62,599.43 321.07,598.90 322.52,599.83 323.98,600.44 325.43,598.94 326.89,600.07 328.34,600.09 329.80,601.39 331.25,598.86 332.71,600.82 334.16,597.86 335.61,601.03 337.07,600.60 338.52,599.96 339.98,600.85 341.43,601.71 342.89,601.35 344.34,600.99 345.80,600.32 347.25,599.52 348.70,600.09 350.16,600.09 351.61,600.09 353.07,600.09 354.52,600.75 355.98,600.68 357.43,601.23 358.89,599.51 360.34,600.80 361.80,601.30 363.25,599.05" fill="none" stroke="#88d5a7" stroke-width="1.1" stroke-linejoin="round" opacity="1.0"/>
<polyline points="73.80,595.49 75.26,597.97 76.71,598.67 78.17,599.03 79.62,600.79 81.08,598.32 82.53,600.09 83.99,601.15 85.44,601.50 86.89,601.51 88.35,601.53 89.80,601.54 91.26,601.55 92.71,601.55 94.17,601.57 95.62,601.59 97.08,601.59 98.53,601.61 99.99,601.62 101.44,601.62 102.89,601.64 104.35,601.67 105.80,601.66 107.26,601.68 108.71,601.69 110.17,601.71 111.62,601.72 113.08,601.72 114.53,601.75 115.98,601.75 117.44,601.77 118.89,601.78 120.35,601.79 121.80,601.79 123.26,601.80 124.71,601.83 126.17,601.83 127.62,601.87 129.08,601.86 130.53,601.86 131.98,601.88 133.44,601.86 134.89,601.90 136.35,601.93 137.80,601.92 139.26,601.95 140.71,601.94 142.17,601.97 143.62,601.98 145.07,602.03 146.53,602.01 147.98,602.00 149.44,602.01 150.89,602.02 152.35,602.04 153.80,602.04 155.26,602.05 156.71,602.07 158.17,602.07 159.62,602.09 161.07,602.13 162.53,602.12 163.98,602.12 165.44,602.16 166.89,602.21 168.35,602.18 169.80,602.18 171.26,602.26 172.71,602.25 174.16,602.25 175.62,602.19 177.07,602.23 178.53,602.27 179.98,602.25 181.44,602.27 182.89,601.19 184.35,602.29 185.80,602.26 187.26,602.29 188.71,602.21 190.16,602.30 191.62,600.81 193.07,602.29 194.53,602.28 195.98,602.28 197.44,602.24 198.89,602.22 200.35,602.29 201.80,602.33 203.25,602.29 204.71,602.28 206.16,602.23 207.62,602.26 209.07,602.28 210.53,602.19 211.98,602.32 213.44,602.32 214.89,600.04 216.35,602.26 217.80,602.28 219.25,602.33 220.71,602.27 222.16,602.28 223.62,602.31 225.07,602.29 226.53,602.35 227.98,602.25 229.44,602.34 230.89,602.26 232.34,602.34 233.80,602.34 235.25,602.31 236.71,602.34 238.16,602.28 239.62,602.34 241.07,602.30 242.53,602.28 243.98,602.27 245.44,602.27 246.89,602.32 248.34,602.23 249.80,602.32 251.25,602.34 252.71,601.14 254.16,602.24 255.62,602.39 257.07,602.34 258.53,602.25 259.98,602.31 261.43,602.38 262.89,602.29 264.34,602.29 265.80,602.33 267.25,602.38 268.71,602.33 270.16,602.35 271.62,602.25 273.07,601.38 274.53,602.41 275.98,602.31 277.43,602.33 278.89,602.26 280.34,602.45 281.80,602.33 283.25,602.27 284.71,602.33 286.16,602.31 287.62,602.36 289.07,602.23 290.52,602.39 291.98,602.32 293.43,602.33 294.89,602.33 296.34,602.28 297.80,602.33 299.25,602.31 300.71,602.29 302.16,602.30 303.62,602.26 305.07,602.37 306.52,602.22 307.98,602.42 309.43,602.42 310.89,602.36 312.34,602.39 313.80,602.28 315.25,602.28 316.71,602.26 318.16,602.26 319.62,602.28 321.07,602.13 322.52,602.36 323.98,602.31 325.43,602.33 326.89,602.24 328.34,602.32 329.80,602.34 331.25,602.37 332.71,602.31 334.16,602.37 335.61,602.26 337.07,602.27 338.52,602.30 339.98,602.27 341.43,602.28 342.89,602.22 344.34,602.33 345.80,602.36 347.25,602.32 348.70,602.33 350.16,602.27 351.61,602.33 353.07,602.38 354.52,602.32 355.98,602.27 357.43,602.37 358.89,602.25 360.34,602.19 361.80,602.36 363.25,602.34" fill="none" stroke="#438cbd" stroke-width="1.1" stroke-linejoin="round" opacity="1.0"/>
<polyline points="73.80,530.80 75.26,566.50 76.71,576.76 78.17,575.34 79.62,587.72 81.08,583.12 82.53,584.18 83.99,579.58 85.44,580.29 86.89,589.48 88.35,590.54 89.80,590.19 91.26,595.49 92.71,593.72 94.17,594.78 95.62,596.55 97.08,596.20 98.53,596.20 99.99,595.85 101.44,597.26 102.89,597.97 104.35,598.32 105.80,597.97 107.26,598.67 108.71,599.03 110.17,599.15 111.62,599.24 113.08,599.34 114.53,599.44 115.98,599.60 117.44,599.81 118.89,599.81 120.35,600.27 121.80,599.81 123.26,600.25 124.71,600.28 126.17,600.81 127.62,601.24 129.08,601.47 130.53,601.36 131.98,601.37 133.44,601.36 134.89,601.40 136.35,601.23 137.80,601.91 139.26,601.10 140.71,601.57 142.17,601.51 143.62,601.97 145.07,601.58 146.53,601.98 147.98,601.61 149.44,601.70 150.89,601.77 152.35,601.89 153.80,601.94 155.26,601.98 156.71,601.75 158.17,601.95 159.62,601.94 161.07,601.52 162.53,602.03 163.98,602.27 165.44,602.58 166.89,602.64 168.35,602.14 169.80,602.01 171.26,602.44 172.71,602.49 174.16,602.32 175.62,602.28 177.07,602.14 178.53,602.39 179.98,602.52 181.44,602.28 182.89,602.64 184.35,602.77 185.80,602.73 187.26,602.60 188.71,602.65 190.16,601.85 191.62,602.55 193.07,602.11 194.53,602.54 195.98,603.09 197.44,602.97 198.89,602.68 200.35,602.91 201.80,602.33 203.25,602.89 204.71,602.91 206.16,602.83 207.62,602.94 209.07,602.81 210.53,603.00 211.98,602.91 213.44,603.13 214.89,603.57 216.35,602.98 217.80,602.76 219.25,603.33 220.71,603.29 222.16,603.07 223.62,603.37 225.07,603.29 226.53,603.40 227.98,603.28 229.44,603.47 230.89,603.09 232.34,603.52 233.80,603.63 235.25,603.91 236.71,603.63 238.16,603.86 239.62,603.57 241.07,603.60 242.53,603.22 243.98,603.92 245.44,603.76 246.89,603.60 248.34,604.23 249.80,603.73 251.25,603.52 252.71,603.89 254.16,603.93 255.62,603.71 257.07,603.92 258.53,603.94 259.98,603.86 261.43,604.20 262.89,603.69 264.34,604.16 265.80,604.12 267.25,604.22 268.71,604.67 270.16,604.50 271.62,604.28 273.07,604.24 274.53,604.03 275.98,603.77 277.43,604.17 278.89,604.35 280.34,603.39 281.80,604.06 283.25,604.50 284.71,604.43 286.16,604.21 287.62,604.54 289.07,604.59 290.52,604.58 291.98,604.97 293.43,604.73 294.89,604.72 296.34,604.73 297.80,604.92 299.25,605.31 300.71,605.09 302.16,604.84 303.62,605.18 305.07,605.21 306.52,604.95 307.98,604.96 309.43,605.04 310.89,604.96 312.34,604.93 313.80,605.00 315.25,605.04 316.71,604.77 318.16,605.33 319.62,604.71 321.07,605.09 322.52,605.28 323.98,605.02 325.43,604.97 326.89,605.40 328.34,605.15 329.80,605.03 331.25,605.04 332.71,605.20 334.16,605.41 335.61,605.24 337.07,604.83 338.52,605.41 339.98,604.69 341.43,605.27 342.89,605.28 344.34,605.37 345.80,605.25 347.25,605.25 348.70,605.49 350.16,604.93 351.61,605.10 353.07,605.26 354.52,605.57 355.98,605.41 357.43,605.38 358.89,605.21 360.34,605.39 361.80,605.58 363.25,605.42" fill="none" stroke="#ec7248" stroke-width="1.1" stroke-linejoin="round" opacity="1.0"/>
<polyline points="73.80,578.52 75.26,563.68 76.71,571.10 78.17,576.76 79.62,585.95 81.08,581.35 82.53,583.12 83.99,582.06 85.44,581.35 86.89,590.54 88.35,597.97 89.80,598.67 91.26,599.73 92.71,601.50 94.17,602.92 95.62,603.80 97.08,603.93 98.53,603.75 99.99,604.28 101.44,604.40 102.89,604.97 104.35,605.11 105.80,605.52 107.26,604.92 108.71,604.98 110.17,605.59 111.62,605.63 113.08,605.83 114.53,605.09 115.98,605.69 117.44,606.14 118.89,606.13 120.35,606.17 121.80,607.04 123.26,606.80 124.71,607.03 126.17,607.41 127.62,607.42 129.08,607.52 130.53,607.90 131.98,608.05 133.44,607.73 134.89,607.99 136.35,607.96 137.80,607.58 139.26,608.06 140.71,608.22 142.17,608.62 143.62,608.19 145.07,608.24 146.53,608.22 147.98,608.27 149.44,608.28 150.89,608.45 152.35,608.52 153.80,608.42 155.26,608.78 156.71,608.87 158.17,608.89 159.62,608.61 161.07,609.14 162.53,608.81 163.98,608.74 165.44,608.63 166.89,609.01 168.35,608.73 169.80,608.75 171.26,608.92 172.71,608.77 174.16,608.86 175.62,609.13 177.07,608.94 178.53,609.10 179.98,608.37 181.44,608.96 182.89,609.08 184.35,608.24 185.80,608.91 187.26,608.81 188.71,608.90 190.16,608.22 191.62,609.19 193.07,609.20 194.53,608.86 195.98,609.13 197.44,608.93 198.89,607.37 200.35,609.41 201.80,608.98 203.25,608.92 204.71,609.31 206.16,608.63 207.62,608.98 209.07,607.40 210.53,608.76 211.98,608.68 213.44,609.37 214.89,609.50 216.35,609.81 217.80,609.95 219.25,609.16 220.71,609.79 222.16,610.15 223.62,609.53 225.07,609.27 226.53,610.02 227.98,609.80 229.44,610.17 230.89,610.36 232.34,609.90 233.80,610.19 235.25,610.21 236.71,609.92 238.16,609.85 239.62,610.03 241.07,609.65 242.53,610.16 243.98,610.09 245.44,609.78 246.89,609.44 248.34,609.51 249.80,609.80 251.25,610.02 252.71,610.42 254.16,609.69 255.62,610.11 257.07,609.49 258.53,610.09 259.98,610.63 261.43,609.84 262.89,610.09 264.34,610.29 265.80,610.12 267.25,610.16 268.71,610.10 270.16,610.65 271.62,610.19 273.07,610.09 274.53,610.54 275.98,609.89 277.43,610.28 278.89,610.78 280.34,609.84 281.80,610.36 283.25,610.26 284.71,610.34 286.16,609.80 287.62,610.30 289.07,610.50 290.52,610.49 291.98,610.19 293.43,610.19 294.89,610.53 296.34,610.13 297.80,610.56 299.25,610.35 300.71,610.26 302.16,610.34 303.62,610.35 305.07,610.36 306.52,610.57 307.98,610.40 309.43,610.38 310.89,610.79 312.34,610.85 313.80,610.42 315.25,610.51 316.71,610.47 318.16,610.34 319.62,610.44 321.07,610.69 322.52,610.42 323.98,610.75 325.43,610.14 326.89,610.33 328.34,610.60 329.80,610.78 331.25,610.50 332.71,610.67 334.16,610.83 335.61,610.52 337.07,610.64 338.52,610.46 339.98,610.73 341.43,610.22 342.89,610.27 344.34,611.11 345.80,611.24 347.25,610.98 348.70,610.37 350.16,610.60 351.61,610.74 353.07,610.71 354.52,611.09 355.98,610.76 357.43,611.06 358.89,610.77 360.34,610.92 361.80,610.97 363.25,610.98" fill="none" stroke="#9c0e44" stroke-width="1.1" stroke-linejoin="round" opacity="1.0"/>
<rect x="59.50" y="480.40" width="318.20" height="146.10" fill="none" stroke="#262626" stroke-width="1.4"/>
<line x1="56.10" y1="626.60" x2="59.50" y2="626.60" stroke="#262626" stroke-width="1.4"/>
<text x="54.50" y="630.25" font-size="14.5" text-anchor="end" >0</text>
<line x1="56.10" y1="591.25" x2="59.50" y2="591.25" stroke="#262626" stroke-width="1.4"/>
<text x="54.50" y="596.20" font-size="14.5" text-anchor="end" >1</text>
<line x1="56.10" y1="555.90" x2="59.50" y2="555.90" stroke="#262626" stroke-width="1.4"/>
<text x="54.50" y="560.85" font-size="14.5" text-anchor="end" >2</text>
<line x1="56.10" y1="520.55" x2="59.50" y2="520.55" stroke="#262626" stroke-width="1.4"/>
<text x="54.50" y="525.50" font-size="14.5" text-anchor="end" >3</text>
<line x1="56.10" y1="485.20" x2="59.50" y2="485.20" stroke="#262626" stroke-width="1.4"/>
<text x="54.50" y="490.15" font-size="14.5" text-anchor="end" >4</text>
<line x1="72.35" y1="626.50" x2="72.35" y2="629.90" stroke="#262626" stroke-width="1.4"/>
<text x="72.35" y="642.90" font-size="14.5" text-anchor="middle" >0</text>
<line x1="108.71" y1="626.50" x2="108.71" y2="629.90" stroke="#262626" stroke-width="1.4"/>
<text x="108.71" y="642.90" font-size="14.5" text-anchor="middle" >25</text>
<line x1="145.07" y1="626.50" x2="145.07" y2="629.90" stroke="#262626" stroke-width="1.4"/>
<text x="145.07" y="642.90" font-size="14.5" text-anchor="middle" >50</text>
<line x1="181.44" y1="626.50" x2="181.44" y2="629.90" stroke="#262626" stroke-width="1.4"/>
<text x="181.44" y="642.90" font-size="14.5" text-anchor="middle" >75</text>
<line x1="217.80" y1="626.50" x2="217.80" y2="629.90" stroke="#262626" stroke-width="1.4"/>
<text x="217.80" y="642.90" font-size="14.5" text-anchor="middle" >100</text>
<line x1="254.16" y1="626.50" x2="254.16" y2="629.90" stroke="#262626" stroke-width="1.4"/>
<text x="254.16" y="642.90" font-size="14.5" text-anchor="middle" >125</text>
<line x1="290.52" y1="626.50" x2="290.52" y2="629.90" stroke="#262626" stroke-width="1.4"/>
<text x="290.52" y="642.90" font-size="14.5" text-anchor="middle" >150</text>
<line x1="326.89" y1="626.50" x2="326.89" y2="629.90" stroke="#262626" stroke-width="1.4"/>
<text x="326.89" y="642.90" font-size="14.5" text-anchor="middle" >175</text>
<line x1="363.25" y1="626.50" x2="363.25" y2="629.90" stroke="#262626" stroke-width="1.4"/>
<text x="363.25" y="642.90" font-size="14.5" text-anchor="middle" >200</text>
<text x="218.90" y="660.00" font-size="18.0" text-anchor="middle" >Epoch</text>
<text x="27.20" y="550.50" font-size="18.0" text-anchor="middle" transform="rotate(-90 27.20 550.50)" >Loss</text>
<rect x="221.00" y="483.30" width="153" height="51.3" rx="2" fill="#ffffff" fill-opacity="0.8" stroke="#e0e0e0" stroke-width="0.8"/>
<line x1="225.80" y1="490.30" x2="245.10" y2="490.30" stroke="#9c0e44" stroke-width="2.4"/>
<text x="0" y="0" font-size="10.0" text-anchor="start" transform="translate(252.30 493.60) scale(1 1.1)" fill="#1a1a1a">Bag-of-Words</text>
<line x1="225.80" y1="502.73" x2="245.10" y2="502.73" stroke="#ec7248" stroke-width="2.4"/>
<text x="0" y="0" font-size="10.0" text-anchor="start" transform="translate(252.30 506.03) scale(1 1.1)" fill="#1a1a1a">DisCoCat</text>
<line x1="225.80" y1="515.16" x2="245.10" y2="515.16" stroke="#88d5a7" stroke-width="2.4"/>
<text x="0" y="0" font-size="10.0" text-anchor="start" transform="translate(252.30 518.46) scale(1 1.1)" fill="#1a1a1a">Word-sequence with cups</text>
<line x1="225.80" y1="527.59" x2="245.10" y2="527.59" stroke="#438cbd" stroke-width="2.4"/>
<text x="0" y="0" font-size="10.0" text-anchor="start" transform="translate(252.30 530.89) scale(1 1.1)" fill="#1a1a1a">Word-sequence with stairs</text>
<polyline points="73.80,765.46 75.26,762.80 76.71,763.20 78.17,764.53 79.62,758.81 81.08,760.54 82.53,770.25 83.99,760.54 85.44,768.39 86.89,762.27 88.35,764.13 89.80,768.12 91.26,762.27 92.71,773.71 94.17,760.54 95.62,756.15 97.08,760.54 98.53,756.15 99.99,762.27 101.44,758.81 102.89,764.13 104.35,758.81 105.80,761.47 107.26,757.08 108.71,758.81 110.17,760.54 111.62,760.54 113.08,756.15 114.53,761.47 115.98,768.12 117.44,756.15 118.89,757.88 120.35,753.49 121.80,758.81 123.26,760.54 124.71,757.08 126.17,768.12 127.62,757.08 129.08,756.15 130.53,761.82 131.98,758.24 133.44,759.18 134.89,754.45 136.35,761.25 137.80,760.79 139.26,759.62 140.71,757.08 142.17,754.35 143.62,757.38 145.07,764.52 146.53,763.77 147.98,755.53 149.44,760.92 150.89,763.01 152.35,761.45 153.80,759.42 155.26,754.38 156.71,758.28 158.17,760.09 159.62,759.60 161.07,752.90 162.53,756.26 163.98,755.62 165.44,754.55 166.89,759.69 168.35,750.58 169.80,757.10 171.26,756.90 172.71,757.14 174.16,755.71 175.62,757.41 177.07,757.38 178.53,754.02 179.98,751.67 181.44,753.69 182.89,745.51 184.35,757.50 185.80,751.43 187.26,756.35 188.71,755.97 190.16,757.24 191.62,751.30 193.07,758.18 194.53,758.28 195.98,753.23 197.44,762.30 198.89,758.50 200.35,748.31 201.80,757.14 203.25,755.85 204.71,764.08 206.16,757.79 207.62,760.85 209.07,759.95 210.53,760.30 211.98,757.21 213.44,758.47 214.89,754.00 216.35,765.21 217.80,759.66 219.25,754.84 220.71,756.00 222.16,752.37 223.62,758.83 225.07,753.69 226.53,755.29 227.98,761.37 229.44,763.08 230.89,750.40 232.34,753.03 233.80,756.38 235.25,759.47 236.71,762.97 238.16,757.96 239.62,756.33 241.07,751.15 242.53,757.72 243.98,756.92 245.44,756.86 246.89,752.80 248.34,750.98 249.80,749.86 251.25,756.20 252.71,753.64 254.16,766.79 255.62,758.58 257.07,757.41 258.53,753.31 259.98,763.64 261.43,755.87 262.89,749.31 264.34,752.35 265.80,751.10 267.25,757.92 268.71,754.80 270.16,759.08 271.62,750.31 273.07,757.14 274.53,757.25 275.98,759.24 277.43,754.76 278.89,750.49 280.34,755.71 281.80,756.00 283.25,757.23 284.71,751.63 286.16,755.14 287.62,753.77 289.07,755.28 290.52,754.92 291.98,753.00 293.43,753.15 294.89,760.47 296.34,755.60 297.80,756.22 299.25,753.89 300.71,751.31 302.16,757.97 303.62,757.92 305.07,760.42 306.52,757.69 307.98,751.51 309.43,757.81 310.89,751.15 312.34,755.48 313.80,756.32 315.25,755.28 316.71,757.44 318.16,754.44 319.62,755.68 321.07,762.15 322.52,758.46 323.98,754.06 325.43,756.80 326.89,763.34 328.34,752.36 329.80,751.01 331.25,760.15 332.71,755.94 334.16,753.21 335.61,754.40 337.07,753.84 338.52,761.13 339.98,752.57 341.43,757.21 342.89,757.88 344.34,754.46 345.80,752.71 347.25,753.11 348.70,758.63 350.16,754.13 351.61,759.80 353.07,751.02 354.52,756.00 355.98,755.21 357.43,749.06 358.89,750.08 360.34,752.89 361.80,749.50 363.25,749.50" fill="none" stroke="#438cbd" stroke-width="1.1" stroke-linejoin="round" opacity="1.0"/>
<polyline points="73.80,766.79 75.26,757.88 76.71,758.81 78.17,757.08 79.62,761.47 81.08,758.81 82.53,753.49 83.99,757.08 85.44,756.15 86.89,764.13 88.35,762.07 89.80,756.11 91.26,763.98 92.71,760.64 94.17,760.17 95.62,769.65 97.08,756.19 98.53,762.30 99.99,759.44 101.44,757.86 102.89,761.32 104.35,758.69 105.80,757.96 107.26,761.47 108.71,761.28 110.17,758.19 111.62,758.48 113.08,757.30 114.53,752.47 115.98,755.48 117.44,756.43 118.89,759.16 120.35,755.28 121.80,759.33 123.26,753.78 124.71,754.68 126.17,762.21 127.62,760.25 129.08,757.93 130.53,758.04 131.98,759.69 133.44,759.22 134.89,754.26 136.35,756.83 137.80,758.79 139.26,755.48 140.71,751.22 142.17,748.22 143.62,750.69 145.07,750.24 146.53,751.38 147.98,750.72 149.44,748.26 150.89,746.58 152.35,746.60 153.80,750.33 155.26,747.97 156.71,748.52 158.17,749.51 159.62,756.53 161.07,751.18 162.53,751.89 163.98,748.35 165.44,752.28 166.89,750.78 168.35,751.42 169.80,749.29 171.26,750.66 172.71,750.25 174.16,749.37 175.62,751.09 177.07,751.97 178.53,754.85 179.98,754.50 181.44,750.22 182.89,755.60 184.35,754.98 185.80,756.32 187.26,756.82 188.71,763.03 190.16,752.22 191.62,758.86 193.07,758.06 194.53,753.05 195.98,761.54 197.44,756.09 198.89,757.43 200.35,760.36 201.80,754.74 203.25,757.91 204.71,756.32 206.16,757.00 207.62,754.49 209.07,750.74 210.53,758.67 211.98,753.80 213.44,757.25 214.89,756.43 216.35,759.84 217.80,758.07 219.25,756.40 220.71,753.50 222.16,754.73 223.62,753.92 225.07,753.50 226.53,758.21 227.98,751.74 229.44,755.69 230.89,753.34 232.34,755.23 233.80,753.22 235.25,751.37 236.71,756.89 238.16,746.30 239.62,749.44 241.07,746.38 242.53,747.35 243.98,746.64 245.44,750.37 246.89,748.86 248.34,753.51 249.80,749.46 251.25,746.16 252.71,754.47 254.16,752.37 255.62,751.66 257.07,748.23 258.53,748.07 259.98,750.69 261.43,750.63 262.89,751.19 264.34,751.92 265.80,751.90 267.25,751.87 268.71,751.17 270.16,750.66 271.62,752.24 273.07,749.44 274.53,750.91 275.98,749.65 277.43,753.85 278.89,752.38 280.34,750.62 281.80,750.20 283.25,751.22 284.71,747.44 286.16,751.29 287.62,747.69 289.07,747.76 290.52,749.30 291.98,749.85 293.43,749.61 294.89,751.15 296.34,753.30 297.80,751.97 299.25,752.22 300.71,751.73 302.16,752.44 303.62,753.18 305.07,750.55 306.52,747.72 307.98,752.74 309.43,754.85 310.89,752.09 312.34,753.52 313.80,753.02 315.25,753.58 316.71,751.04 318.16,749.54 319.62,745.76 321.07,753.18 322.52,753.64 323.98,750.91 325.43,750.79 326.89,746.97 328.34,747.60 329.80,751.83 331.25,754.78 332.71,749.07 334.16,751.23 335.61,747.28 337.07,750.46 338.52,750.47 339.98,752.68 341.43,750.17 342.89,747.56 344.34,751.75 345.80,749.53 347.25,751.18 348.70,747.94 350.16,749.97 351.61,748.64 353.07,749.09 354.52,751.62 355.98,752.16 357.43,746.85 358.89,750.36 360.34,751.78 361.80,750.93 363.25,745.97" fill="none" stroke="#88d5a7" stroke-width="1.1" stroke-linejoin="round" opacity="1.0"/>
<polyline points="73.80,771.44 75.26,761.47 76.71,753.49 78.17,756.15 79.62,754.42 81.08,750.83 82.53,753.49 83.99,760.54 85.44,756.15 86.89,762.27 88.35,758.81 89.80,761.47 91.26,758.81 92.71,757.08 94.17,756.15 95.62,758.81 97.08,757.88 98.53,756.15 99.99,757.48 101.44,757.08 102.89,756.15 104.35,756.15 105.80,753.49 107.26,755.22 108.71,757.88 110.17,756.15 111.62,758.81 113.08,759.61 114.53,758.81 115.98,759.61 117.44,757.88 118.89,757.08 120.35,757.88 121.80,756.15 123.26,755.35 124.71,757.88 126.17,760.54 127.62,757.08 129.08,757.88 130.53,759.90 131.98,757.32 133.44,757.44 134.89,756.08 136.35,754.01 137.80,754.06 139.26,754.36 140.71,753.26 142.17,753.43 143.62,755.82 145.07,755.79 146.53,754.95 147.98,752.38 149.44,753.92 150.89,747.48 152.35,754.79 153.80,755.23 155.26,750.54 156.71,748.76 158.17,750.73 159.62,749.72 161.07,748.08 162.53,751.50 163.98,754.46 165.44,752.10 166.89,748.33 168.35,753.84 169.80,750.08 171.26,749.34 172.71,750.48 174.16,747.77 175.62,747.98 177.07,743.68 178.53,747.62 179.98,750.43 181.44,750.18 182.89,750.69 184.35,746.29 185.80,749.79 187.26,748.47 188.71,746.38 190.16,749.81 191.62,748.70 193.07,752.31 194.53,750.41 195.98,749.09 197.44,746.64 198.89,744.69 200.35,747.50 201.80,746.75 203.25,746.88 204.71,744.60 206.16,744.97 207.62,746.36 209.07,749.35 210.53,744.68 211.98,746.73 213.44,745.50 214.89,749.31 216.35,745.36 217.80,751.69 219.25,744.85 220.71,746.23 222.16,745.58 223.62,744.89 225.07,743.10 226.53,739.89 227.98,741.89 229.44,742.75 230.89,750.64 232.34,743.81 233.80,743.18 235.25,744.83 236.71,744.02 238.16,741.53 239.62,736.39 241.07,742.05 242.53,739.55 243.98,734.27 245.44,739.76 246.89,740.73 248.34,740.79 249.80,745.16 251.25,741.55 252.71,744.86 254.16,739.73 255.62,741.73 257.07,736.16 258.53,740.85 259.98,738.14 261.43,744.42 262.89,741.48 264.34,740.30 265.80,736.79 267.25,744.88 268.71,738.37 270.16,739.22 271.62,736.85 273.07,738.71 274.53,740.18 275.98,741.44 277.43,743.31 278.89,739.99 280.34,741.05 281.80,735.89 283.25,742.32 284.71,740.22 286.16,744.88 287.62,742.20 289.07,740.76 290.52,739.55 291.98,738.19 293.43,741.89 294.89,744.59 296.34,740.96 297.80,740.95 299.25,741.14 300.71,744.13 302.16,739.87 303.62,742.51 305.07,741.17 306.52,739.62 307.98,741.04 309.43,741.63 310.89,736.99 312.34,741.38 313.80,742.49 315.25,741.34 316.71,737.88 318.16,740.97 319.62,739.83 321.07,738.04 322.52,741.95 323.98,744.68 325.43,739.65 326.89,739.64 328.34,741.47 329.80,737.75 331.25,738.20 332.71,741.86 334.16,738.06 335.61,739.60 337.07,742.50 338.52,737.69 339.98,738.70 341.43,740.20 342.89,736.99 344.34,736.89 345.80,739.27 347.25,736.75 348.70,735.10 350.16,739.10 351.61,736.35 353.07,737.12 354.52,731.57 355.98,741.32 357.43,735.07 358.89,737.33 360.34,736.71 361.80,731.78 363.25,736.22" fill="none" stroke="#ec7248" stroke-width="1.1" stroke-linejoin="round" opacity="1.0"/>
<polyline points="73.80,754.02 75.26,759.74 76.71,756.15 78.17,758.81 79.62,756.15 81.08,753.49 82.53,756.15 83.99,750.03 85.44,748.17 86.89,752.16 88.35,747.37 89.80,749.50 91.26,748.17 92.71,746.57 94.17,743.12 95.62,744.71 97.08,735.53 98.53,741.52 99.99,735.53 101.44,730.75 102.89,738.86 104.35,745.24 105.80,737.80 107.26,734.34 108.71,733.54 110.17,738.86 111.62,736.87 113.08,736.20 114.53,738.86 115.98,733.81 117.44,733.54 118.89,740.46 120.35,731.28 121.80,732.61 123.26,736.20 124.71,733.81 126.17,731.28 127.62,736.20 129.08,729.95 130.53,730.88 131.98,728.22 133.44,724.50 134.89,729.55 136.35,726.89 137.80,729.55 139.26,730.88 140.71,733.54 142.17,736.20 143.62,725.56 145.07,728.22 146.53,726.89 147.98,729.55 149.44,725.56 150.89,728.22 152.35,723.43 153.80,726.89 155.26,728.22 156.71,724.23 158.17,722.23 159.62,725.56 161.07,721.97 162.53,724.65 163.98,723.37 165.44,727.76 166.89,723.44 168.35,723.82 169.80,722.85 171.26,722.75 172.71,727.29 174.16,728.13 175.62,727.06 177.07,726.79 178.53,722.80 179.98,729.44 181.44,725.46 182.89,723.57 184.35,725.85 185.80,728.36 187.26,727.28 188.71,724.48 190.16,724.09 191.62,725.86 193.07,724.88 194.53,722.81 195.98,726.23 197.44,721.64 198.89,727.50 200.35,721.80 201.80,728.38 203.25,722.91 204.71,725.54 206.16,728.58 207.62,725.31 209.07,724.47 210.53,724.41 211.98,725.33 213.44,725.90 214.89,726.15 216.35,725.37 217.80,723.16 219.25,724.63 220.71,724.18 222.16,725.18 223.62,722.79 225.07,720.82 226.53,721.19 227.98,727.95 229.44,727.27 230.89,727.63 232.34,726.27 233.80,721.68 235.25,726.28 236.71,725.36 238.16,725.97 239.62,729.32 241.07,727.93 242.53,727.00 243.98,727.27 245.44,726.24 246.89,726.50 248.34,726.02 249.80,728.79 251.25,723.56 252.71,724.59 254.16,726.99 255.62,726.54 257.07,727.31 258.53,729.38 259.98,724.23 261.43,726.45 262.89,723.45 264.34,722.58 265.80,728.23 267.25,727.83 268.71,724.54 270.16,726.67 271.62,726.91 273.07,726.39 274.53,724.72 275.98,728.29 277.43,725.41 278.89,723.37 280.34,726.69 281.80,726.32 283.25,724.69 284.71,723.64 286.16,723.60 287.62,724.61 289.07,722.32 290.52,726.84 291.98,722.28 293.43,724.39 294.89,726.17 296.34,728.42 297.80,722.46 299.25,725.03 300.71,724.43 302.16,722.40 303.62,726.34 305.07,723.96 306.52,723.80 307.98,722.25 309.43,724.89 310.89,721.84 312.34,726.61 313.80,725.65 315.25,726.85 316.71,727.46 318.16,722.14 319.62,724.97 321.07,725.61 322.52,725.15 323.98,725.25 325.43,728.54 326.89,726.46 328.34,724.77 329.80,728.00 331.25,725.98 332.71,726.36 334.16,727.57 335.61,728.27 337.07,726.79 338.52,725.13 339.98,724.47 341.43,728.66 342.89,725.26 344.34,724.37 345.80,729.01 347.25,728.29 348.70,724.46 350.16,724.11 351.61,724.42 353.07,722.33 354.52,724.12 355.98,722.79 357.43,725.56 358.89,725.53 360.34,727.36 361.80,725.34 363.25,726.31" fill="none" stroke="#9c0e44" stroke-width="1.1" stroke-linejoin="round" opacity="1.0"/>
<rect x="59.50" y="683.20" width="318.20" height="146.20" fill="none" stroke="#262626" stroke-width="1.4"/>
<line x1="56.10" y1="829.40" x2="59.50" y2="829.40" stroke="#262626" stroke-width="1.4"/>
<text x="55.60" y="833.05" font-size="14.5" text-anchor="end" >0</text>
<line x1="56.10" y1="802.82" x2="59.50" y2="802.82" stroke="#262626" stroke-width="1.4"/>
<text x="55.60" y="807.77" font-size="14.5" text-anchor="end" >0.2</text>
<line x1="56.10" y1="776.24" x2="59.50" y2="776.24" stroke="#262626" stroke-width="1.4"/>
<text x="55.60" y="781.19" font-size="14.5" text-anchor="end" >0.4</text>
<line x1="56.10" y1="749.66" x2="59.50" y2="749.66" stroke="#262626" stroke-width="1.4"/>
<text x="55.60" y="754.61" font-size="14.5" text-anchor="end" >0.6</text>
<line x1="56.10" y1="723.08" x2="59.50" y2="723.08" stroke="#262626" stroke-width="1.4"/>
<text x="55.60" y="728.03" font-size="14.5" text-anchor="end" >0.8</text>
<line x1="56.10" y1="696.50" x2="59.50" y2="696.50" stroke="#262626" stroke-width="1.4"/>
<text x="55.60" y="701.45" font-size="14.5" text-anchor="end" >1.0</text>
<line x1="72.35" y1="829.40" x2="72.35" y2="832.80" stroke="#262626" stroke-width="1.4"/>
<text x="72.35" y="845.80" font-size="14.5" text-anchor="middle" >0</text>
<line x1="108.71" y1="829.40" x2="108.71" y2="832.80" stroke="#262626" stroke-width="1.4"/>
<text x="108.71" y="845.80" font-size="14.5" text-anchor="middle" >25</text>
<line x1="145.07" y1="829.40" x2="145.07" y2="832.80" stroke="#262626" stroke-width="1.4"/>
<text x="145.07" y="845.80" font-size="14.5" text-anchor="middle" >50</text>
<line x1="181.44" y1="829.40" x2="181.44" y2="832.80" stroke="#262626" stroke-width="1.4"/>
<text x="181.44" y="845.80" font-size="14.5" text-anchor="middle" >75</text>
<line x1="217.80" y1="829.40" x2="217.80" y2="832.80" stroke="#262626" stroke-width="1.4"/>
<text x="217.80" y="845.80" font-size="14.5" text-anchor="middle" >100</text>
<line x1="254.16" y1="829.40" x2="254.16" y2="832.80" stroke="#262626" stroke-width="1.4"/>
<text x="254.16" y="845.80" font-size="14.5" text-anchor="middle" >125</text>
<line x1="290.52" y1="829.40" x2="290.52" y2="832.80" stroke="#262626" stroke-width="1.4"/>
<text x="290.52" y="845.80" font-size="14.5" text-anchor="middle" >150</text>
<line x1="326.89" y1="829.40" x2="326.89" y2="832.80" stroke="#262626" stroke-width="1.4"/>
<text x="326.89" y="845.80" font-size="14.5" text-anchor="middle" >175</text>
<line x1="363.25" y1="829.40" x2="363.25" y2="832.80" stroke="#262626" stroke-width="1.4"/>
<text x="363.25" y="845.80" font-size="14.5" text-anchor="middle" >200</text>
<text x="218.90" y="862.90" font-size="18.0" text-anchor="middle" >Epoch</text>
<text x="27.20" y="758.20" font-size="18.0" text-anchor="middle" transform="rotate(-90 27.20 758.20)" >Accuracy</text>
<rect x="465.00" y="148.05" width="18.60" height="39.25" fill="#95b1e0"/>
<rect x="447.20" y="157.34" width="18.40" height="29.96" fill="#3d5583"/>
<rect x="528.50" y="148.19" width="18.60" height="39.11" fill="#95b1e0"/>
<rect x="510.70" y="159.07" width="18.40" height="28.23" fill="#3d5583"/>
<rect x="592.10" y="70.16" width="18.60" height="117.14" fill="#95b1e0"/>
<rect x="574.30" y="105.19" width="18.40" height="82.11" fill="#3d5583"/>
<rect x="655.60" y="135.45" width="18.60" height="51.85" fill="#95b1e0"/>
<rect x="637.80" y="131.20" width="18.40" height="56.10" fill="#3d5583"/>
<text x="0" y="0" font-size="9.8" text-anchor="middle" transform="translate(454.60 154.30) scale(1 1.05)" fill="#1a1a1a">0.23</text>
<text x="0" y="0" font-size="9.8" text-anchor="middle" transform="translate(475.40 144.50) scale(1 1.05)" fill="#1a1a1a">0.3</text>
<text x="0" y="0" font-size="9.8" text-anchor="middle" transform="translate(518.70 155.70) scale(1 1.05)" fill="#1a1a1a">0.22</text>
<text x="0" y="0" font-size="9.8" text-anchor="middle" transform="translate(538.40 144.70) scale(1 1.05)" fill="#1a1a1a">0.3</text>
<text x="0" y="0" font-size="9.8" text-anchor="middle" transform="translate(582.10 101.20) scale(1 1.05)" fill="#1a1a1a">0.62</text>
<text x="0" y="0" font-size="9.8" text-anchor="middle" transform="translate(602.00 66.60) scale(1 1.05)" fill="#1a1a1a">0.88</text>
<text x="0" y="0" font-size="9.8" text-anchor="middle" transform="translate(645.90 127.90) scale(1 1.05)" fill="#1a1a1a">0.42</text>
<text x="0" y="0" font-size="9.8" text-anchor="middle" transform="translate(666.90 131.20) scale(1 1.05)" fill="#1a1a1a">0.39</text>
<rect x="439.70" y="41.10" width="243.40" height="146.20" fill="none" stroke="#262626" stroke-width="1.4"/>
<line x1="436.10" y1="187.30" x2="439.70" y2="187.30" stroke="#262626" stroke-width="1.4"/>
<text x="434.40" y="190.95" font-size="14.5" text-anchor="end" >0</text>
<line x1="436.10" y1="160.62" x2="439.70" y2="160.62" stroke="#262626" stroke-width="1.4"/>
<text x="434.40" y="165.57" font-size="14.5" text-anchor="end" >0.2</text>
<line x1="436.10" y1="133.94" x2="439.70" y2="133.94" stroke="#262626" stroke-width="1.4"/>
<text x="434.40" y="138.89" font-size="14.5" text-anchor="end" >0.4</text>
<line x1="436.10" y1="107.26" x2="439.70" y2="107.26" stroke="#262626" stroke-width="1.4"/>
<text x="434.40" y="112.21" font-size="14.5" text-anchor="end" >0.6</text>
<line x1="436.10" y1="80.58" x2="439.70" y2="80.58" stroke="#262626" stroke-width="1.4"/>
<text x="434.40" y="85.53" font-size="14.5" text-anchor="end" >0.8</text>
<line x1="436.10" y1="53.90" x2="439.70" y2="53.90" stroke="#262626" stroke-width="1.4"/>
<text x="434.40" y="58.85" font-size="14.5" text-anchor="end" >1.0</text>
<line x1="465.40" y1="187.30" x2="465.40" y2="190.70" stroke="#262626" stroke-width="1.4"/>
<text x="465.85" y="203.80" font-size="14.7" text-anchor="middle" >BoW</text>
<line x1="528.90" y1="187.30" x2="528.90" y2="190.70" stroke="#262626" stroke-width="1.4"/>
<text x="524.40" y="203.80" font-size="14.7" text-anchor="middle" >DisCoCat</text>
<line x1="592.50" y1="187.30" x2="592.50" y2="190.70" stroke="#262626" stroke-width="1.4"/>
<text x="592.85" y="203.80" font-size="14.7" text-anchor="middle" >Cups</text>
<line x1="656.00" y1="187.30" x2="656.00" y2="190.70" stroke="#262626" stroke-width="1.4"/>
<text x="656.40" y="203.80" font-size="14.7" text-anchor="middle" >Stairs</text>
<text x="407.30" y="111.10" font-size="18.0" text-anchor="middle" transform="rotate(-90 407.30 111.10)" >Loss</text>
<rect x="613.80" y="43.70" width="66.2" height="23.5" rx="2" fill="#ffffff" fill-opacity="0.8" stroke="#e0e0e0" stroke-width="0.8"/>
<rect x="616.00" y="47.00" width="16.8" height="5.8" fill="#3d5583"/>
<text x="0" y="0" font-size="9.9" text-anchor="start" transform="translate(635.50 53.00) scale(1 1.1)" fill="#1a1a1a">Train</text>
<rect x="616.00" y="58.00" width="16.8" height="5.8" fill="#95b1e0"/>
<text x="0" y="0" font-size="9.9" text-anchor="start" transform="translate(635.50 64.00) scale(1 1.1)" fill="#1a1a1a">Validation</text>
<rect x="465.00" y="273.76" width="18.60" height="118.54" fill="#95b1e0"/>
<rect x="447.20" y="266.18" width="18.40" height="126.12" fill="#3d5583"/>
<rect x="528.50" y="271.10" width="18.60" height="121.20" fill="#95b1e0"/>
<rect x="510.70" y="271.10" width="18.40" height="121.20" fill="#3d5583"/>
<rect x="592.10" y="301.43" width="18.60" height="90.87" fill="#95b1e0"/>
<rect x="574.30" y="301.43" width="18.40" height="90.87" fill="#3d5583"/>
<rect x="655.60" y="275.49" width="18.60" height="116.81" fill="#95b1e0"/>
<rect x="637.80" y="280.41" width="18.40" height="111.89" fill="#3d5583"/>
<text x="0" y="0" font-size="9.8" text-anchor="middle" transform="translate(454.80 263.10) scale(1 1.05)" fill="#1a1a1a">0.94</text>
<text x="0" y="0" font-size="9.8" text-anchor="middle" transform="translate(475.90 271.00) scale(1 1.05)" fill="#1a1a1a">0.89</text>
<text x="0" y="0" font-size="9.8" text-anchor="middle" transform="translate(528.00 268.10) scale(1 1.05)" fill="#1a1a1a">0.91</text>
<text x="0" y="0" font-size="9.8" text-anchor="middle" transform="translate(591.90 297.00) scale(1 1.05)" fill="#1a1a1a">0.69</text>
<text x="0" y="0" font-size="9.8" text-anchor="middle" transform="translate(646.40 277.50) scale(1 1.05)" fill="#1a1a1a">0.86</text>
<text x="0" y="0" font-size="9.8" text-anchor="middle" transform="translate(666.40 271.70) scale(1 1.05)" fill="#1a1a1a">0.88</text>
<rect x="439.70" y="245.50" width="243.40" height="146.80" fill="none" stroke="#262626" stroke-width="1.4"/>
<line x1="436.10" y1="392.30" x2="439.70" y2="392.30" stroke="#262626" stroke-width="1.4"/>
<text x="434.40" y="395.95" font-size="14.5" text-anchor="end" >0</text>
<line x1="436.10" y1="365.52" x2="439.70" y2="365.52" stroke="#262626" stroke-width="1.4"/>
<text x="434.40" y="370.47" font-size="14.5" text-anchor="end" >0.2</text>
<line x1="436.10" y1="338.74" x2="439.70" y2="338.74" stroke="#262626" stroke-width="1.4"/>
<text x="434.40" y="343.69" font-size="14.5" text-anchor="end" >0.4</text>
<line x1="436.10" y1="311.96" x2="439.70" y2="311.96" stroke="#262626" stroke-width="1.4"/>
<text x="434.40" y="316.91" font-size="14.5" text-anchor="end" >0.6</text>
<line x1="436.10" y1="285.18" x2="439.70" y2="285.18" stroke="#262626" stroke-width="1.4"/>
<text x="434.40" y="290.13" font-size="14.5" text-anchor="end" >0.8</text>
<line x1="436.10" y1="258.40" x2="439.70" y2="258.40" stroke="#262626" stroke-width="1.4"/>
<text x="434.40" y="263.35" font-size="14.5" text-anchor="end" >1.0</text>
<line x1="465.40" y1="392.30" x2="465.40" y2="395.70" stroke="#262626" stroke-width="1.4"/>
<text x="465.85" y="408.80" font-size="14.7" text-anchor="middle" >BoW</text>
<line x1="528.90" y1="392.30" x2="528.90" y2="395.70" stroke="#262626" stroke-width="1.4"/>
<text x="524.40" y="408.80" font-size="14.7" text-anchor="middle" >DisCoCat</text>
<line x1="592.50" y1="392.30" x2="592.50" y2="395.70" stroke="#262626" stroke-width="1.4"/>
<text x="592.85" y="408.80" font-size="14.7" text-anchor="middle" >Cups</text>
<line x1="656.00" y1="392.30" x2="656.00" y2="395.70" stroke="#262626" stroke-width="1.4"/>
<text x="656.40" y="408.80" font-size="14.7" text-anchor="middle" >Stairs</text>
<text x="407.30" y="320.40" font-size="18.0" text-anchor="middle" transform="rotate(-90 407.30 320.40)" >Accuracy</text>
<rect x="465.00" y="557.51" width="18.60" height="68.89" fill="#95b1e0"/>
<rect x="447.20" y="568.01" width="18.40" height="58.39" fill="#3d5583"/>
<rect x="528.50" y="494.60" width="18.60" height="131.80" fill="#95b1e0"/>
<rect x="510.70" y="548.73" width="18.40" height="77.67" fill="#3d5583"/>
<rect x="592.10" y="492.74" width="18.60" height="133.66" fill="#95b1e0"/>
<rect x="574.30" y="525.19" width="18.40" height="101.21" fill="#3d5583"/>
<rect x="655.60" y="531.44" width="18.60" height="94.96" fill="#95b1e0"/>
<rect x="637.80" y="535.16" width="18.40" height="91.24" fill="#3d5583"/>
<text x="0" y="0" font-size="9.8" text-anchor="middle" transform="translate(454.60 563.00) scale(1 1.05)" fill="#1a1a1a">0.44</text>
<text x="0" y="0" font-size="9.8" text-anchor="middle" transform="translate(474.40 553.50) scale(1 1.05)" fill="#1a1a1a">0.52</text>
<text x="0" y="0" font-size="9.8" text-anchor="middle" transform="translate(518.70 543.20) scale(1 1.05)" fill="#1a1a1a">0.59</text>
<text x="0" y="0" font-size="9.8" text-anchor="middle" transform="translate(538.50 491.10) scale(1 1.05)" fill="#1a1a1a">0.98</text>
<text x="0" y="0" font-size="9.8" text-anchor="middle" transform="translate(581.20 521.50) scale(1 1.05)" fill="#1a1a1a">0.76</text>
<text x="0" y="0" font-size="9.8" text-anchor="middle" transform="translate(601.50 489.20) scale(1 1.05)" fill="#1a1a1a">1</text>
<text x="0" y="0" font-size="9.8" text-anchor="middle" transform="translate(645.90 531.50) scale(1 1.05)" fill="#1a1a1a">0.69</text>
<text x="0" y="0" font-size="9.8" text-anchor="middle" transform="translate(666.30 529.60) scale(1 1.05)" fill="#1a1a1a">0.71</text>
<rect x="439.70" y="480.20" width="243.40" height="146.20" fill="none" stroke="#262626" stroke-width="1.4"/>
<line x1="436.10" y1="626.40" x2="439.70" y2="626.40" stroke="#262626" stroke-width="1.4"/>
<text x="434.40" y="630.05" font-size="14.5" text-anchor="end" >0</text>
<line x1="436.10" y1="599.70" x2="439.70" y2="599.70" stroke="#262626" stroke-width="1.4"/>
<text x="434.40" y="604.65" font-size="14.5" text-anchor="end" >0.2</text>
<line x1="436.10" y1="573.00" x2="439.70" y2="573.00" stroke="#262626" stroke-width="1.4"/>
<text x="434.40" y="577.95" font-size="14.5" text-anchor="end" >0.4</text>
<line x1="436.10" y1="546.30" x2="439.70" y2="546.30" stroke="#262626" stroke-width="1.4"/>
<text x="434.40" y="551.25" font-size="14.5" text-anchor="end" >0.6</text>
<line x1="436.10" y1="519.60" x2="439.70" y2="519.60" stroke="#262626" stroke-width="1.4"/>
<text x="434.40" y="524.55" font-size="14.5" text-anchor="end" >0.8</text>
<line x1="436.10" y1="492.90" x2="439.70" y2="492.90" stroke="#262626" stroke-width="1.4"/>
<text x="434.40" y="497.85" font-size="14.5" text-anchor="end" >1.0</text>
<line x1="465.40" y1="626.40" x2="465.40" y2="629.80" stroke="#262626" stroke-width="1.4"/>
<text x="465.85" y="642.90" font-size="14.7" text-anchor="middle" >BoW</text>
<line x1="528.90" y1="626.40" x2="528.90" y2="629.80" stroke="#262626" stroke-width="1.4"/>
<text x="524.40" y="642.90" font-size="14.7" text-anchor="middle" >DisCoCat</text>
<line x1="592.50" y1="626.40" x2="592.50" y2="629.80" stroke="#262626" stroke-width="1.4"/>
<text x="592.85" y="642.90" font-size="14.7" text-anchor="middle" >Cups</text>
<line x1="656.00" y1="626.40" x2="656.00" y2="629.80" stroke="#262626" stroke-width="1.4"/>
<text x="656.40" y="642.90" font-size="14.7" text-anchor="middle" >Stairs</text>
<text x="407.30" y="550.50" font-size="18.0" text-anchor="middle" transform="rotate(-90 407.30 550.50)" >Loss</text>
<rect x="613.40" y="482.80" width="66.2" height="23.5" rx="2" fill="#ffffff" fill-opacity="0.8" stroke="#e0e0e0" stroke-width="0.8"/>
<rect x="615.60" y="486.10" width="16.8" height="5.8" fill="#3d5583"/>
<text x="0" y="0" font-size="9.9" text-anchor="start" transform="translate(635.10 492.10) scale(1 1.1)" fill="#1a1a1a">Train</text>
<rect x="615.60" y="497.10" width="16.8" height="5.8" fill="#95b1e0"/>
<text x="0" y="0" font-size="9.9" text-anchor="start" transform="translate(635.10 503.10) scale(1 1.1)" fill="#1a1a1a">Validation</text>
<rect x="465.00" y="727.16" width="18.60" height="103.74" fill="#95b1e0"/>
<rect x="447.20" y="723.17" width="18.40" height="107.73" fill="#3d5583"/>
<rect x="528.50" y="738.06" width="18.60" height="92.84" fill="#95b1e0"/>
<rect x="510.70" y="736.87" width="18.40" height="94.03" fill="#3d5583"/>
<rect x="592.10" y="744.45" width="18.60" height="86.45" fill="#95b1e0"/>
<rect x="574.30" y="750.03" width="18.40" height="80.87" fill="#3d5583"/>
<rect x="655.60" y="766.12" width="18.60" height="64.77" fill="#95b1e0"/>
<rect x="637.80" y="750.30" width="18.40" height="80.60" fill="#3d5583"/>
<text x="0" y="0" font-size="9.8" text-anchor="middle" transform="translate(454.60 719.20) scale(1 1.05)" fill="#1a1a1a">0.81</text>
<text x="0" y="0" font-size="9.8" text-anchor="middle" transform="translate(474.80 723.60) scale(1 1.05)" fill="#1a1a1a">0.78</text>
<text x="0" y="0" font-size="9.8" text-anchor="middle" transform="translate(519.50 734.10) scale(1 1.05)" fill="#1a1a1a">0.7</text>
<text x="0" y="0" font-size="9.8" text-anchor="middle" transform="translate(538.90 734.80) scale(1 1.05)" fill="#1a1a1a">0.69</text>
<text x="0" y="0" font-size="9.8" text-anchor="middle" transform="translate(583.30 747.00) scale(1 1.05)" fill="#1a1a1a">0.6</text>
<text x="0" y="0" font-size="9.8" text-anchor="middle" transform="translate(601.80 740.90) scale(1 1.05)" fill="#1a1a1a">0.65</text>
<text x="0" y="0" font-size="9.8" text-anchor="middle" transform="translate(646.30 746.90) scale(1 1.05)" fill="#1a1a1a">0.6</text>
<text x="0" y="0" font-size="9.8" text-anchor="middle" transform="translate(666.30 763.60) scale(1 1.05)" fill="#1a1a1a">0.49</text>
<rect x="439.70" y="684.40" width="243.40" height="146.50" fill="none" stroke="#262626" stroke-width="1.4"/>
<line x1="436.10" y1="830.90" x2="439.70" y2="830.90" stroke="#262626" stroke-width="1.4"/>
<text x="434.40" y="834.55" font-size="14.5" text-anchor="end" >0</text>
<line x1="436.10" y1="804.16" x2="439.70" y2="804.16" stroke="#262626" stroke-width="1.4"/>
<text x="434.40" y="809.11" font-size="14.5" text-anchor="end" >0.2</text>
<line x1="436.10" y1="777.42" x2="439.70" y2="777.42" stroke="#262626" stroke-width="1.4"/>
<text x="434.40" y="782.37" font-size="14.5" text-anchor="end" >0.4</text>
<line x1="436.10" y1="750.68" x2="439.70" y2="750.68" stroke="#262626" stroke-width="1.4"/>
<text x="434.40" y="755.63" font-size="14.5" text-anchor="end" >0.6</text>
<line x1="436.10" y1="723.94" x2="439.70" y2="723.94" stroke="#262626" stroke-width="1.4"/>
<text x="434.40" y="728.89" font-size="14.5" text-anchor="end" >0.8</text>
<line x1="436.10" y1="697.20" x2="439.70" y2="697.20" stroke="#262626" stroke-width="1.4"/>
<text x="434.40" y="702.15" font-size="14.5" text-anchor="end" >1.0</text>
<line x1="465.40" y1="830.90" x2="465.40" y2="834.30" stroke="#262626" stroke-width="1.4"/>
<text x="465.85" y="847.40" font-size="14.7" text-anchor="middle" >BoW</text>
<line x1="528.90" y1="830.90" x2="528.90" y2="834.30" stroke="#262626" stroke-width="1.4"/>
<text x="524.40" y="847.40" font-size="14.7" text-anchor="middle" >DisCoCat</text>
<line x1="592.50" y1="830.90" x2="592.50" y2="834.30" stroke="#262626" stroke-width="1.4"/>
<text x="592.85" y="847.40" font-size="14.7" text-anchor="middle" >Cups</text>
<line x1="656.00" y1="830.90" x2="656.00" y2="834.30" stroke="#262626" stroke-width="1.4"/>
<text x="656.40" y="847.40" font-size="14.7" text-anchor="middle" >Stairs</text>
<text x="407.30" y="758.20" font-size="18.0" text-anchor="middle" transform="rotate(-90 407.30 758.20)" >Accuracy</text>
<text x="1.00" y="17.00" font-size="21.5" text-anchor="start" >(a)</text>
<text x="357.70" y="27.60" font-size="21.8" text-anchor="middle" >Pore Volume Dataset</text>
<text x="1.00" y="459.00" font-size="21.5" text-anchor="start" >(b)</text>
<text x="211.00" y="461.30" font-size="21.6" text-anchor="start" xml:space="preserve">CO<tspan font-size="12.3" dy="7">2</tspan><tspan dy="-7" dx="6.5">Henry’s Constant Dataset</tspan></text>
</svg>
</body></html>
